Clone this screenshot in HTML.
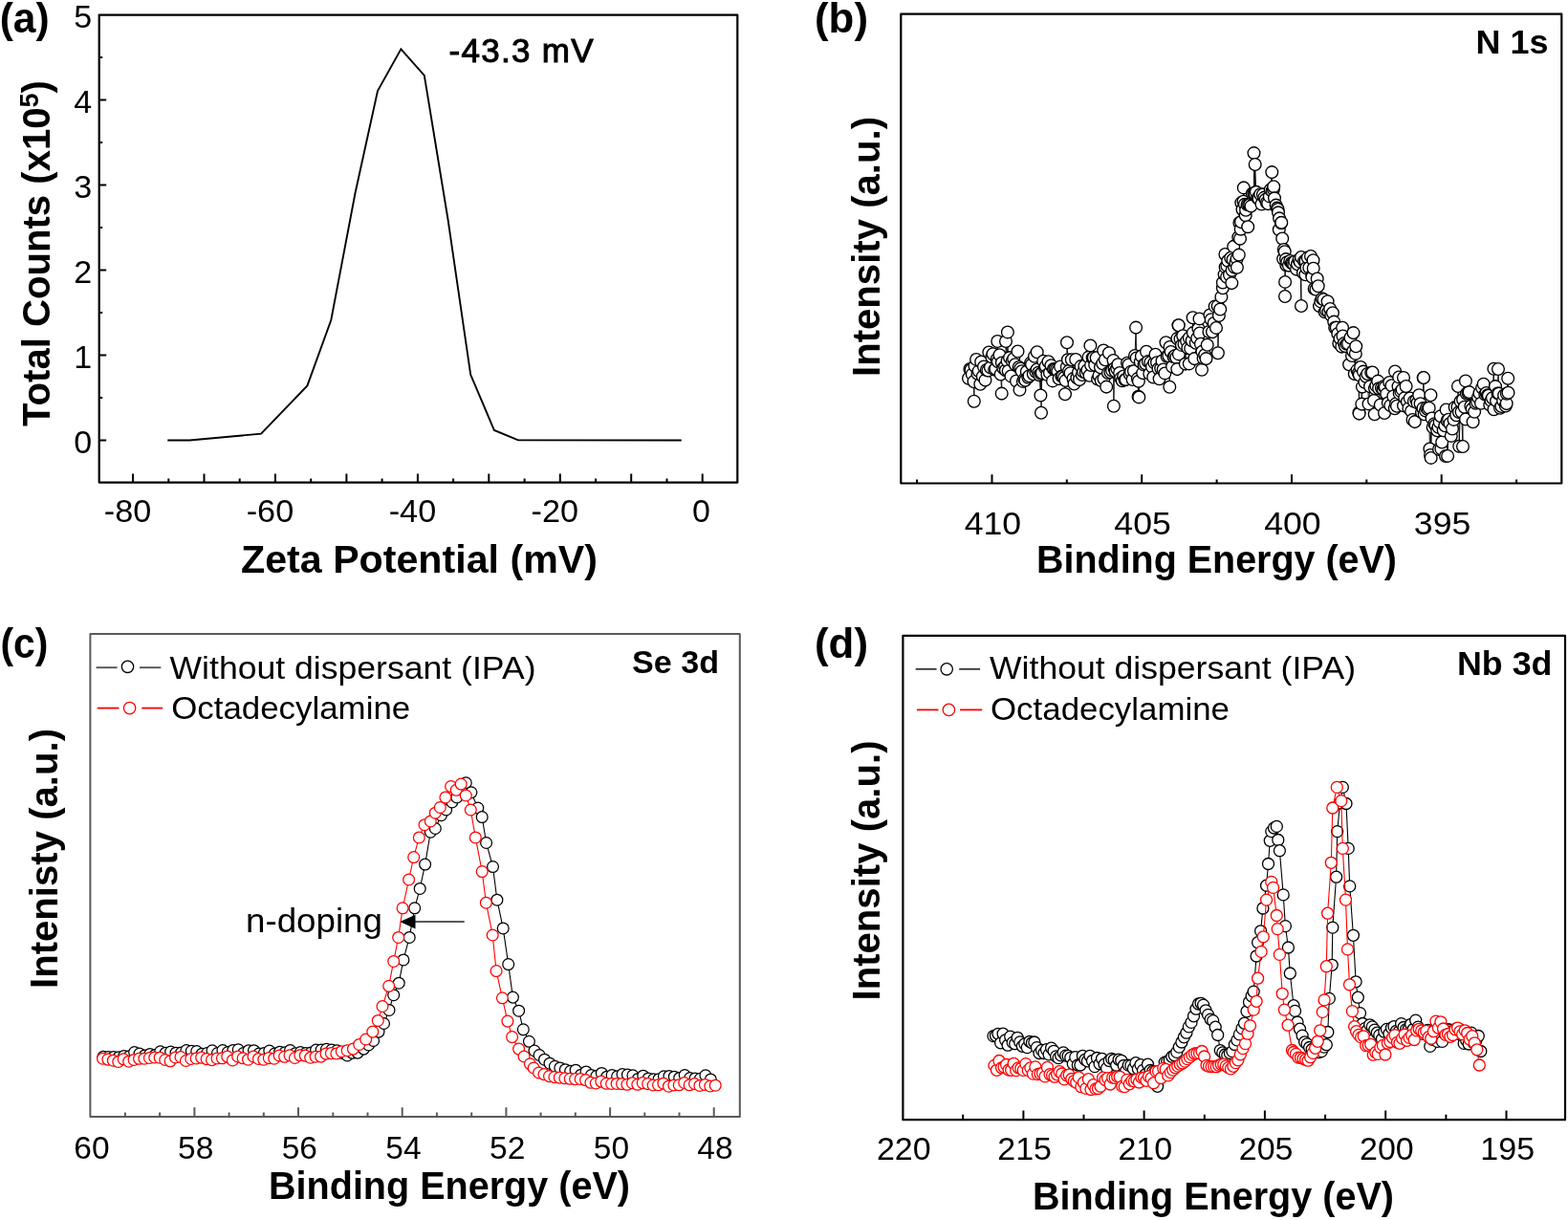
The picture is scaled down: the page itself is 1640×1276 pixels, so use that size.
<!DOCTYPE html><html><head><meta charset="utf-8"><title>Figure</title><style>html,body{margin:0;padding:0;background:#fff;overflow:hidden}svg{display:block}</style></head><body>
<svg width="1640" height="1276" viewBox="0 0 1640 1276" font-family="'Liberation Sans', sans-serif">
<rect width="1640" height="1276" fill="#fff"/>
<g id="pa">
<rect x="103.7" y="15.6" width="667.6" height="489.0" fill="none" stroke="#000" stroke-width="2.2" stroke-linejoin="round"/>
<path d="M139.0 504.6V495.6M176.3 504.6V500.6M213.5 504.6V495.6M250.7 504.6V500.6M287.9 504.6V495.6M325.2 504.6V500.6M362.4 504.6V495.6M399.6 504.6V500.6M436.9 504.6V495.6M474.1 504.6V500.6M511.3 504.6V495.6M548.6 504.6V500.6M585.8 504.6V495.6M623.0 504.6V500.6M660.2 504.6V495.6M697.5 504.6V500.6M734.7 504.6V495.6M103.7 460.5H111.2M103.7 416.0H107.2M103.7 371.5H111.2M103.7 327.0H107.2M103.7 282.5H111.2M103.7 238.0H107.2M103.7 193.6H111.2M103.7 149.1H107.2M103.7 104.6H111.2M103.7 60.1H107.2" stroke="#000" stroke-width="2" fill="none"/>
<text x="158.3" y="545.7" font-size="34" text-anchor="end" textLength="49.5" lengthAdjust="spacingAndGlyphs">-80</text>
<text x="307.2" y="545.7" font-size="34" text-anchor="end" textLength="49.5" lengthAdjust="spacingAndGlyphs">-60</text>
<text x="456.2" y="545.7" font-size="34" text-anchor="end" textLength="49.5" lengthAdjust="spacingAndGlyphs">-40</text>
<text x="605.1" y="545.7" font-size="34" text-anchor="end" textLength="49.5" lengthAdjust="spacingAndGlyphs">-20</text>
<text x="733.5" y="545.7" font-size="34" text-anchor="middle">0</text>
<text x="96.2" y="474.1" font-size="34" text-anchor="end">0</text>
<text x="96.2" y="385.1" font-size="34" text-anchor="end">1</text>
<text x="96.2" y="296.1" font-size="34" text-anchor="end">2</text>
<text x="96.2" y="207.2" font-size="34" text-anchor="end">3</text>
<text x="96.2" y="118.2" font-size="34" text-anchor="end">4</text>
<text x="96.2" y="29.2" font-size="34" text-anchor="end">5</text>
<polyline points="175.3,460.5 198.3,460.5 273.1,453.6 321.4,403.4 346.3,334.8 371.5,202.0 395.0,95.0 419.4,51.3 443.8,78.8 468.6,230.0 492.2,391.8 516.9,450.0 542.0,460.4 712.7,460.5" fill="none" stroke="#000" stroke-width="1.9" stroke-linejoin="miter"/>
<text x="252.0" y="598.9" font-size="40" font-weight="bold" textLength="373" lengthAdjust="spacingAndGlyphs">Zeta Potential (mV)</text>
<text transform="translate(52,446) rotate(-90)" font-size="40" font-weight="bold" textLength="362" lengthAdjust="spacingAndGlyphs">Total Counts (x10<tspan font-size="27" dy="-12">5</tspan><tspan dy="12">)</tspan></text>
<text x="469.5" y="64.5" font-size="35" stroke="#000" stroke-width="1.0" textLength="151" lengthAdjust="spacing">-43.3 mV</text>
<text x="-0.3" y="34.0" font-size="44.5" font-weight="bold" textLength="52" lengthAdjust="spacingAndGlyphs">(a)</text>
</g>
<g id="pb">
<rect x="942.3" y="14.6" width="691.0" height="490.9" fill="none" stroke="#000" stroke-width="2.2" stroke-linejoin="round"/>
<path d="M959.1 505.5V501.5M1037.5 505.5V496.3M1115.8 505.5V501.5M1194.2 505.5V496.3M1272.6 505.5V501.5M1351.0 505.5V496.3M1429.3 505.5V501.5M1507.7 505.5V496.3M1586.1 505.5V501.5" stroke="#000" stroke-width="2" fill="none"/>
<text x="1038.4" y="559.2" font-size="33.5" text-anchor="middle" textLength="59.5" lengthAdjust="spacingAndGlyphs">410</text>
<text x="1195.1" y="559.2" font-size="33.5" text-anchor="middle" textLength="59.5" lengthAdjust="spacingAndGlyphs">405</text>
<text x="1351.9" y="559.2" font-size="33.5" text-anchor="middle" textLength="59.5" lengthAdjust="spacingAndGlyphs">400</text>
<text x="1508.6" y="559.2" font-size="33.5" text-anchor="middle" textLength="59.5" lengthAdjust="spacingAndGlyphs">395</text>
<text x="1084.0" y="598.8" font-size="40" font-weight="bold" textLength="377" lengthAdjust="spacingAndGlyphs">Binding Energy (eV)</text>
<text transform="translate(920.1,394) rotate(-90)" font-size="40" font-weight="bold" textLength="272" lengthAdjust="spacingAndGlyphs">Intensity (a.u.)</text>
<text x="1543.5" y="56.2" font-size="35" font-weight="bold" textLength="76" lengthAdjust="spacingAndGlyphs">N 1s</text>
<text x="852.0" y="34.0" font-size="44.5" font-weight="bold" textLength="56" lengthAdjust="spacingAndGlyphs">(b)</text>
<polyline points="1013.0,395.7 1014.4,385.9 1015.6,386.7 1016.8,391.6 1018.5,399.1 1018.8,419.7 1019.5,382.7 1021.1,375.9 1022.5,390.8 1023.7,388.1 1025.3,401.7 1026.2,378.5 1027.8,393.7 1029.0,383.5 1030.5,397.6 1031.8,387.0 1033.4,387.6 1034.3,368.4 1035.9,384.2 1037.4,373.5 1038.5,370.2 1040.2,386.6 1041.4,385.8 1042.6,376.0 1043.3,357.0 1043.8,378.2 1045.5,371.3 1046.7,391.5 1047.7,411.6 1047.9,379.5 1049.3,385.0 1051.1,383.4 1051.9,387.3 1052.0,357.0 1053.6,377.5 1053.9,347.4 1054.7,388.0 1056.0,374.1 1057.4,393.4 1058.8,377.6 1060.2,375.2 1061.8,381.2 1063.0,398.5 1064.5,367.5 1065.7,383.9 1066.5,407.8 1067.3,385.5 1068.6,388.2 1069.9,398.9 1071.3,396.6 1072.4,397.7 1073.8,388.7 1075.3,394.8 1076.5,393.3 1078.0,379.6 1079.0,381.2 1080.8,391.2 1082.0,372.7 1083.3,388.7 1084.6,386.5 1084.7,368.3 1086.1,389.8 1087.1,392.2 1088.4,413.5 1088.8,390.9 1089.0,431.7 1089.8,390.0 1091.2,377.7 1092.9,384.8 1093.7,383.1 1095.4,391.9 1096.5,378.3 1097.9,389.9 1099.4,382.2 1101.0,398.4 1101.9,385.9 1103.3,386.3 1104.8,387.0 1106.3,388.2 1107.6,396.1 1109.1,383.4 1110.4,393.5 1111.4,393.6 1113.0,394.9 1114.0,412.2 1114.5,398.1 1115.8,384.0 1116.0,358.3 1116.9,376.2 1118.0,388.0 1119.5,390.3 1120.8,376.3 1122.5,396.1 1123.5,401.5 1125.2,376.0 1126.4,395.2 1128.0,389.5 1129.1,397.1 1130.5,383.1 1131.8,392.0 1133.1,388.9 1134.4,382.7 1135.8,390.1 1137.4,387.2 1138.6,373.6 1139.6,392.8 1140.4,361.4 1141.1,382.0 1142.7,374.2 1143.8,373.9 1145.2,381.7 1146.7,374.2 1148.1,396.5 1149.5,392.9 1151.0,384.2 1151.8,398.1 1153.2,380.2 1154.2,366.5 1154.5,396.3 1155.9,376.3 1157.2,404.6 1158.9,390.0 1159.9,369.3 1161.3,389.3 1163.1,387.6 1164.5,377.0 1164.9,424.8 1165.5,385.4 1166.6,388.3 1168.2,385.5 1169.4,381.3 1171.1,389.9 1172.2,395.6 1173.8,398.2 1175.2,393.4 1176.6,397.3 1177.6,396.9 1179.0,379.7 1180.5,381.5 1181.7,391.2 1183.0,388.8 1184.6,397.0 1185.9,388.1 1187.0,372.0 1188.1,342.6 1188.7,374.4 1189.9,396.1 1190.6,414.7 1190.9,398.7 1191.3,415.4 1192.8,378.5 1193.9,372.5 1195.2,390.1 1196.5,381.5 1198.1,380.2 1199.0,367.8 1200.9,378.1 1202.3,390.9 1203.3,379.0 1205.0,383.8 1206.2,394.5 1207.4,379.4 1208.5,370.7 1210.0,379.2 1211.5,385.7 1212.6,396.3 1214.2,385.2 1215.5,377.4 1216.7,386.5 1218.4,390.4 1219.5,358.2 1220.6,372.7 1222.3,372.2 1223.3,404.8 1223.5,363.0 1224.7,367.9 1226.1,383.5 1227.6,373.2 1229.0,371.9 1230.3,373.9 1231.3,386.1 1231.4,354.1 1232.5,340.3 1232.7,340.2 1232.9,370.4 1234.5,354.5 1235.9,360.9 1237.2,351.2 1238.5,359.9 1239.8,380.6 1241.1,356.7 1242.4,364.1 1243.8,353.4 1243.8,380.4 1245.2,364.6 1246.7,356.2 1247.6,332.2 1247.9,348.1 1249.3,375.1 1250.8,358.8 1252.2,353.7 1253.4,343.7 1254.5,333.4 1254.8,348.5 1255.9,359.8 1257.0,386.7 1257.4,367.7 1258.6,374.8 1260.2,371.3 1261.5,375.1 1262.7,360.7 1264.4,347.0 1265.4,329.4 1266.7,334.3 1268.0,347.1 1269.7,337.9 1270.7,320.4 1272.0,342.9 1273.7,320.1 1273.9,369.2 1274.9,330.0 1276.2,323.5 1277.4,310.6 1278.9,301.2 1278.9,295.5 1280.6,287.1 1281.4,266.0 1281.6,279.4 1283.1,289.7 1283.3,277.9 1284.2,272.7 1286.0,287.5 1287.2,269.7 1288.3,296.1 1288.6,282.7 1289.5,271.5 1290.2,257.9 1291.2,279.6 1292.4,274.9 1293.6,270.7 1293.9,279.8 1295.3,248.3 1295.8,266.6 1296.4,233.0 1297.0,249.7 1297.7,239.7 1298.0,232.1 1298.3,212.1 1299.5,219.2 1300.5,210.7 1300.8,196.4 1301.9,213.8 1302.7,225.3 1303.1,219.8 1304.6,214.0 1305.2,237.2 1306.1,214.1 1307.2,213.9 1308.5,215.6 1309.8,202.5 1311.3,202.2 1311.5,160.1 1312.5,202.4 1312.7,172.0 1313.8,200.8 1315.5,207.2 1316.6,208.0 1318.2,203.2 1319.5,213.5 1320.9,203.4 1322.3,206.6 1323.7,208.7 1324.9,211.9 1326.2,213.1 1327.8,205.4 1328.7,198.4 1330.3,180.1 1330.5,199.8 1331.9,197.9 1332.2,195.2 1333.0,207.3 1334.6,214.6 1335.8,217.6 1336.6,219.0 1337.0,222.3 1337.8,240.3 1338.1,228.4 1340.0,233.3 1340.3,232.8 1341.2,249.5 1342.1,270.8 1342.8,261.0 1343.7,263.2 1344.0,310.0 1344.1,294.9 1345.0,271.1 1345.3,277.3 1346.2,274.2 1347.9,277.6 1349.3,273.0 1350.8,274.9 1351.8,275.7 1353.2,276.4 1354.3,273.4 1356.0,281.6 1357.0,276.3 1358.5,271.8 1359.8,273.9 1361.0,320.0 1361.0,269.0 1362.9,285.2 1364.1,273.1 1365.4,287.3 1365.5,273.2 1366.4,280.2 1367.8,269.6 1369.3,279.9 1371.0,267.9 1372.3,288.0 1372.4,289.8 1373.5,272.3 1373.7,280.8 1374.7,302.0 1376.4,302.8 1377.7,291.5 1378.7,299.3 1380.0,320.1 1381.3,315.4 1382.7,312.3 1384.4,313.3 1385.7,326.2 1387.1,324.5 1388.6,315.3 1389.4,326.1 1391.2,323.0 1392.2,329.8 1393.9,327.3 1395.2,336.6 1396.2,342.8 1397.8,342.6 1399.3,349.0 1400.3,359.0 1401.6,354.0 1403.3,362.6 1404.1,342.7 1404.5,351.5 1406.0,359.0 1407.0,362.1 1408.5,359.7 1410.1,359.4 1411.1,381.3 1412.5,353.3 1414.0,372.0 1415.2,367.2 1415.5,348.1 1416.8,391.1 1417.8,369.9 1418.2,362.2 1419.5,387.1 1420.8,390.2 1421.5,431.5 1421.6,432.6 1421.8,392.2 1423.1,384.0 1424.3,422.6 1424.9,404.6 1425.9,388.6 1427.4,399.8 1428.7,393.8 1430.3,391.0 1431.5,422.4 1433.0,404.3 1434.2,389.8 1435.5,389.4 1437.0,418.9 1437.7,433.3 1438.0,406.2 1439.3,403.4 1441.2,398.6 1442.1,406.3 1443.8,423.5 1444.9,405.7 1446.5,407.1 1447.5,404.0 1448.0,432.0 1448.8,405.0 1450.2,412.1 1451.8,421.4 1453.2,399.9 1454.3,424.1 1455.5,403.3 1457.3,414.5 1458.8,427.2 1459.1,388.4 1460.1,422.3 1461.0,424.8 1462.5,404.3 1463.2,394.4 1463.7,411.4 1465.3,409.4 1466.6,407.4 1468.0,424.3 1468.0,395.0 1469.2,416.1 1470.6,404.0 1471.9,420.3 1473.4,426.9 1474.7,416.4 1476.1,429.9 1477.5,439.0 1478.9,419.8 1479.8,441.1 1481.4,418.6 1482.6,421.4 1484.2,413.2 1485.6,422.3 1487.0,431.4 1488.4,427.1 1488.7,395.1 1489.0,395.0 1489.7,433.2 1491.0,429.6 1492.1,426.8 1493.4,428.0 1494.7,426.7 1495.4,469.5 1496.0,476.0 1496.4,413.3 1496.7,478.9 1497.6,437.5 1498.7,446.9 1500.3,443.3 1501.6,444.8 1503.2,450.3 1504.5,446.8 1505.0,470.0 1505.7,441.6 1506.8,435.2 1507.4,469.5 1508.2,462.5 1509.7,450.3 1511.3,445.3 1512.0,477.0 1512.6,428.5 1513.6,440.0 1514.1,476.9 1515.1,438.8 1516.5,443.0 1517.8,455.9 1519.0,448.5 1520.5,438.9 1521.7,426.1 1523.2,434.2 1524.5,425.7 1525.0,404.0 1525.9,431.0 1526.2,466.8 1527.6,419.7 1528.6,430.7 1530.0,467.0 1530.1,418.1 1531.7,425.7 1532.9,398.4 1533.0,438.5 1533.9,411.8 1535.6,411.1 1536.6,410.1 1538.3,424.8 1539.7,427.7 1540.6,441.3 1542.1,430.7 1543.4,421.8 1545.1,420.6 1546.1,415.5 1547.5,411.2 1549.0,421.7 1550.1,405.6 1551.7,401.7 1553.3,412.5 1554.5,411.0 1556.0,413.2 1556.9,413.7 1558.3,423.5 1559.5,418.9 1560.9,416.2 1562.4,385.7 1562.5,428.3 1564.0,404.1 1565.1,419.2 1566.5,411.4 1567.0,386.0 1567.8,411.6 1569.0,426.8 1570.4,425.0 1572.1,419.0 1573.1,413.4 1574.8,424.5 1575.7,422.1 1575.9,411.8 1577.2,395.7 1577.5,410.7" fill="none" stroke="#000" stroke-width="0.9"/>
<g fill="#fff" stroke="#000" stroke-width="1.35">
<circle cx="1013.0" cy="395.7" r="6.35"/><circle cx="1014.4" cy="385.9" r="6.35"/><circle cx="1015.6" cy="386.7" r="6.35"/><circle cx="1016.8" cy="391.6" r="6.35"/><circle cx="1018.5" cy="399.1" r="6.35"/><circle cx="1018.8" cy="419.7" r="6.35"/><circle cx="1019.5" cy="382.7" r="6.35"/><circle cx="1021.1" cy="375.9" r="6.35"/><circle cx="1022.5" cy="390.8" r="6.35"/><circle cx="1023.7" cy="388.1" r="6.35"/><circle cx="1025.3" cy="401.7" r="6.35"/><circle cx="1026.2" cy="378.5" r="6.35"/><circle cx="1027.8" cy="393.7" r="6.35"/><circle cx="1029.0" cy="383.5" r="6.35"/><circle cx="1030.5" cy="397.6" r="6.35"/><circle cx="1031.8" cy="387.0" r="6.35"/><circle cx="1033.4" cy="387.6" r="6.35"/><circle cx="1034.3" cy="368.4" r="6.35"/><circle cx="1035.9" cy="384.2" r="6.35"/><circle cx="1037.4" cy="373.5" r="6.35"/><circle cx="1038.5" cy="370.2" r="6.35"/><circle cx="1040.2" cy="386.6" r="6.35"/><circle cx="1041.4" cy="385.8" r="6.35"/><circle cx="1042.6" cy="376.0" r="6.35"/><circle cx="1043.3" cy="357.0" r="6.35"/><circle cx="1043.8" cy="378.2" r="6.35"/><circle cx="1045.5" cy="371.3" r="6.35"/><circle cx="1046.7" cy="391.5" r="6.35"/><circle cx="1047.7" cy="411.6" r="6.35"/><circle cx="1047.9" cy="379.5" r="6.35"/><circle cx="1049.3" cy="385.0" r="6.35"/><circle cx="1051.1" cy="383.4" r="6.35"/><circle cx="1051.9" cy="387.3" r="6.35"/><circle cx="1052.0" cy="357.0" r="6.35"/><circle cx="1053.6" cy="377.5" r="6.35"/><circle cx="1053.9" cy="347.4" r="6.35"/><circle cx="1054.7" cy="388.0" r="6.35"/><circle cx="1056.0" cy="374.1" r="6.35"/><circle cx="1057.4" cy="393.4" r="6.35"/><circle cx="1058.8" cy="377.6" r="6.35"/><circle cx="1060.2" cy="375.2" r="6.35"/><circle cx="1061.8" cy="381.2" r="6.35"/><circle cx="1063.0" cy="398.5" r="6.35"/><circle cx="1064.5" cy="367.5" r="6.35"/><circle cx="1065.7" cy="383.9" r="6.35"/><circle cx="1066.5" cy="407.8" r="6.35"/><circle cx="1067.3" cy="385.5" r="6.35"/><circle cx="1068.6" cy="388.2" r="6.35"/><circle cx="1069.9" cy="398.9" r="6.35"/><circle cx="1071.3" cy="396.6" r="6.35"/><circle cx="1072.4" cy="397.7" r="6.35"/><circle cx="1073.8" cy="388.7" r="6.35"/><circle cx="1075.3" cy="394.8" r="6.35"/><circle cx="1076.5" cy="393.3" r="6.35"/><circle cx="1078.0" cy="379.6" r="6.35"/><circle cx="1079.0" cy="381.2" r="6.35"/><circle cx="1080.8" cy="391.2" r="6.35"/><circle cx="1082.0" cy="372.7" r="6.35"/><circle cx="1083.3" cy="388.7" r="6.35"/><circle cx="1084.6" cy="386.5" r="6.35"/><circle cx="1084.7" cy="368.3" r="6.35"/><circle cx="1086.1" cy="389.8" r="6.35"/><circle cx="1087.1" cy="392.2" r="6.35"/><circle cx="1088.4" cy="413.5" r="6.35"/><circle cx="1088.8" cy="390.9" r="6.35"/><circle cx="1089.0" cy="431.7" r="6.35"/><circle cx="1089.8" cy="390.0" r="6.35"/><circle cx="1091.2" cy="377.7" r="6.35"/><circle cx="1092.9" cy="384.8" r="6.35"/><circle cx="1093.7" cy="383.1" r="6.35"/><circle cx="1095.4" cy="391.9" r="6.35"/><circle cx="1096.5" cy="378.3" r="6.35"/><circle cx="1097.9" cy="389.9" r="6.35"/><circle cx="1099.4" cy="382.2" r="6.35"/><circle cx="1101.0" cy="398.4" r="6.35"/><circle cx="1101.9" cy="385.9" r="6.35"/><circle cx="1103.3" cy="386.3" r="6.35"/><circle cx="1104.8" cy="387.0" r="6.35"/><circle cx="1106.3" cy="388.2" r="6.35"/><circle cx="1107.6" cy="396.1" r="6.35"/><circle cx="1109.1" cy="383.4" r="6.35"/><circle cx="1110.4" cy="393.5" r="6.35"/><circle cx="1111.4" cy="393.6" r="6.35"/><circle cx="1113.0" cy="394.9" r="6.35"/><circle cx="1114.0" cy="412.2" r="6.35"/><circle cx="1114.5" cy="398.1" r="6.35"/><circle cx="1115.8" cy="384.0" r="6.35"/><circle cx="1116.0" cy="358.3" r="6.35"/><circle cx="1116.9" cy="376.2" r="6.35"/><circle cx="1118.0" cy="388.0" r="6.35"/><circle cx="1119.5" cy="390.3" r="6.35"/><circle cx="1120.8" cy="376.3" r="6.35"/><circle cx="1122.5" cy="396.1" r="6.35"/><circle cx="1123.5" cy="401.5" r="6.35"/><circle cx="1125.2" cy="376.0" r="6.35"/><circle cx="1126.4" cy="395.2" r="6.35"/><circle cx="1128.0" cy="389.5" r="6.35"/><circle cx="1129.1" cy="397.1" r="6.35"/><circle cx="1130.5" cy="383.1" r="6.35"/><circle cx="1131.8" cy="392.0" r="6.35"/><circle cx="1133.1" cy="388.9" r="6.35"/><circle cx="1134.4" cy="382.7" r="6.35"/><circle cx="1135.8" cy="390.1" r="6.35"/><circle cx="1137.4" cy="387.2" r="6.35"/><circle cx="1138.6" cy="373.6" r="6.35"/><circle cx="1139.6" cy="392.8" r="6.35"/><circle cx="1140.4" cy="361.4" r="6.35"/><circle cx="1141.1" cy="382.0" r="6.35"/><circle cx="1142.7" cy="374.2" r="6.35"/><circle cx="1143.8" cy="373.9" r="6.35"/><circle cx="1145.2" cy="381.7" r="6.35"/><circle cx="1146.7" cy="374.2" r="6.35"/><circle cx="1148.1" cy="396.5" r="6.35"/><circle cx="1149.5" cy="392.9" r="6.35"/><circle cx="1151.0" cy="384.2" r="6.35"/><circle cx="1151.8" cy="398.1" r="6.35"/><circle cx="1153.2" cy="380.2" r="6.35"/><circle cx="1154.2" cy="366.5" r="6.35"/><circle cx="1154.5" cy="396.3" r="6.35"/><circle cx="1155.9" cy="376.3" r="6.35"/><circle cx="1157.2" cy="404.6" r="6.35"/><circle cx="1158.9" cy="390.0" r="6.35"/><circle cx="1159.9" cy="369.3" r="6.35"/><circle cx="1161.3" cy="389.3" r="6.35"/><circle cx="1163.1" cy="387.6" r="6.35"/><circle cx="1164.5" cy="377.0" r="6.35"/><circle cx="1164.9" cy="424.8" r="6.35"/><circle cx="1165.5" cy="385.4" r="6.35"/><circle cx="1166.6" cy="388.3" r="6.35"/><circle cx="1168.2" cy="385.5" r="6.35"/><circle cx="1169.4" cy="381.3" r="6.35"/><circle cx="1171.1" cy="389.9" r="6.35"/><circle cx="1172.2" cy="395.6" r="6.35"/><circle cx="1173.8" cy="398.2" r="6.35"/><circle cx="1175.2" cy="393.4" r="6.35"/><circle cx="1176.6" cy="397.3" r="6.35"/><circle cx="1177.6" cy="396.9" r="6.35"/><circle cx="1179.0" cy="379.7" r="6.35"/><circle cx="1180.5" cy="381.5" r="6.35"/><circle cx="1181.7" cy="391.2" r="6.35"/><circle cx="1183.0" cy="388.8" r="6.35"/><circle cx="1184.6" cy="397.0" r="6.35"/><circle cx="1185.9" cy="388.1" r="6.35"/><circle cx="1187.0" cy="372.0" r="6.35"/><circle cx="1188.1" cy="342.6" r="6.35"/><circle cx="1188.7" cy="374.4" r="6.35"/><circle cx="1189.9" cy="396.1" r="6.35"/><circle cx="1190.6" cy="414.7" r="6.35"/><circle cx="1190.9" cy="398.7" r="6.35"/><circle cx="1191.3" cy="415.4" r="6.35"/><circle cx="1192.8" cy="378.5" r="6.35"/><circle cx="1193.9" cy="372.5" r="6.35"/><circle cx="1195.2" cy="390.1" r="6.35"/><circle cx="1196.5" cy="381.5" r="6.35"/><circle cx="1198.1" cy="380.2" r="6.35"/><circle cx="1199.0" cy="367.8" r="6.35"/><circle cx="1200.9" cy="378.1" r="6.35"/><circle cx="1202.3" cy="390.9" r="6.35"/><circle cx="1203.3" cy="379.0" r="6.35"/><circle cx="1205.0" cy="383.8" r="6.35"/><circle cx="1206.2" cy="394.5" r="6.35"/><circle cx="1207.4" cy="379.4" r="6.35"/><circle cx="1208.5" cy="370.7" r="6.35"/><circle cx="1210.0" cy="379.2" r="6.35"/><circle cx="1211.5" cy="385.7" r="6.35"/><circle cx="1212.6" cy="396.3" r="6.35"/><circle cx="1214.2" cy="385.2" r="6.35"/><circle cx="1215.5" cy="377.4" r="6.35"/><circle cx="1216.7" cy="386.5" r="6.35"/><circle cx="1218.4" cy="390.4" r="6.35"/><circle cx="1219.5" cy="358.2" r="6.35"/><circle cx="1220.6" cy="372.7" r="6.35"/><circle cx="1222.3" cy="372.2" r="6.35"/><circle cx="1223.3" cy="404.8" r="6.35"/><circle cx="1223.5" cy="363.0" r="6.35"/><circle cx="1224.7" cy="367.9" r="6.35"/><circle cx="1226.1" cy="383.5" r="6.35"/><circle cx="1227.6" cy="373.2" r="6.35"/><circle cx="1229.0" cy="371.9" r="6.35"/><circle cx="1230.3" cy="373.9" r="6.35"/><circle cx="1231.3" cy="386.1" r="6.35"/><circle cx="1231.4" cy="354.1" r="6.35"/><circle cx="1232.5" cy="340.3" r="6.35"/><circle cx="1232.7" cy="340.2" r="6.35"/><circle cx="1232.9" cy="370.4" r="6.35"/><circle cx="1234.5" cy="354.5" r="6.35"/><circle cx="1235.9" cy="360.9" r="6.35"/><circle cx="1237.2" cy="351.2" r="6.35"/><circle cx="1238.5" cy="359.9" r="6.35"/><circle cx="1239.8" cy="380.6" r="6.35"/><circle cx="1241.1" cy="356.7" r="6.35"/><circle cx="1242.4" cy="364.1" r="6.35"/><circle cx="1243.8" cy="353.4" r="6.35"/><circle cx="1243.8" cy="380.4" r="6.35"/><circle cx="1245.2" cy="364.6" r="6.35"/><circle cx="1246.7" cy="356.2" r="6.35"/><circle cx="1247.6" cy="332.2" r="6.35"/><circle cx="1247.9" cy="348.1" r="6.35"/><circle cx="1249.3" cy="375.1" r="6.35"/><circle cx="1250.8" cy="358.8" r="6.35"/><circle cx="1252.2" cy="353.7" r="6.35"/><circle cx="1253.4" cy="343.7" r="6.35"/><circle cx="1254.5" cy="333.4" r="6.35"/><circle cx="1254.8" cy="348.5" r="6.35"/><circle cx="1255.9" cy="359.8" r="6.35"/><circle cx="1257.0" cy="386.7" r="6.35"/><circle cx="1257.4" cy="367.7" r="6.35"/><circle cx="1258.6" cy="374.8" r="6.35"/><circle cx="1260.2" cy="371.3" r="6.35"/><circle cx="1261.5" cy="375.1" r="6.35"/><circle cx="1262.7" cy="360.7" r="6.35"/><circle cx="1264.4" cy="347.0" r="6.35"/><circle cx="1265.4" cy="329.4" r="6.35"/><circle cx="1266.7" cy="334.3" r="6.35"/><circle cx="1268.0" cy="347.1" r="6.35"/><circle cx="1269.7" cy="337.9" r="6.35"/><circle cx="1270.7" cy="320.4" r="6.35"/><circle cx="1272.0" cy="342.9" r="6.35"/><circle cx="1273.7" cy="320.1" r="6.35"/><circle cx="1273.9" cy="369.2" r="6.35"/><circle cx="1274.9" cy="330.0" r="6.35"/><circle cx="1276.2" cy="323.5" r="6.35"/><circle cx="1277.4" cy="310.6" r="6.35"/><circle cx="1278.9" cy="301.2" r="6.35"/><circle cx="1278.9" cy="295.5" r="6.35"/><circle cx="1280.6" cy="287.1" r="6.35"/><circle cx="1281.4" cy="266.0" r="6.35"/><circle cx="1281.6" cy="279.4" r="6.35"/><circle cx="1283.1" cy="289.7" r="6.35"/><circle cx="1283.3" cy="277.9" r="6.35"/><circle cx="1284.2" cy="272.7" r="6.35"/><circle cx="1286.0" cy="287.5" r="6.35"/><circle cx="1287.2" cy="269.7" r="6.35"/><circle cx="1288.3" cy="296.1" r="6.35"/><circle cx="1288.6" cy="282.7" r="6.35"/><circle cx="1289.5" cy="271.5" r="6.35"/><circle cx="1290.2" cy="257.9" r="6.35"/><circle cx="1291.2" cy="279.6" r="6.35"/><circle cx="1292.4" cy="274.9" r="6.35"/><circle cx="1293.6" cy="270.7" r="6.35"/><circle cx="1293.9" cy="279.8" r="6.35"/><circle cx="1295.3" cy="248.3" r="6.35"/><circle cx="1295.8" cy="266.6" r="6.35"/><circle cx="1296.4" cy="233.0" r="6.35"/><circle cx="1297.0" cy="249.7" r="6.35"/><circle cx="1297.7" cy="239.7" r="6.35"/><circle cx="1298.0" cy="232.1" r="6.35"/><circle cx="1298.3" cy="212.1" r="6.35"/><circle cx="1299.5" cy="219.2" r="6.35"/><circle cx="1300.5" cy="210.7" r="6.35"/><circle cx="1300.8" cy="196.4" r="6.35"/><circle cx="1301.9" cy="213.8" r="6.35"/><circle cx="1302.7" cy="225.3" r="6.35"/><circle cx="1303.1" cy="219.8" r="6.35"/><circle cx="1304.6" cy="214.0" r="6.35"/><circle cx="1305.2" cy="237.2" r="6.35"/><circle cx="1306.1" cy="214.1" r="6.35"/><circle cx="1307.2" cy="213.9" r="6.35"/><circle cx="1308.5" cy="215.6" r="6.35"/><circle cx="1309.8" cy="202.5" r="6.35"/><circle cx="1311.3" cy="202.2" r="6.35"/><circle cx="1311.5" cy="160.1" r="6.35"/><circle cx="1312.5" cy="202.4" r="6.35"/><circle cx="1312.7" cy="172.0" r="6.35"/><circle cx="1313.8" cy="200.8" r="6.35"/><circle cx="1315.5" cy="207.2" r="6.35"/><circle cx="1316.6" cy="208.0" r="6.35"/><circle cx="1318.2" cy="203.2" r="6.35"/><circle cx="1319.5" cy="213.5" r="6.35"/><circle cx="1320.9" cy="203.4" r="6.35"/><circle cx="1322.3" cy="206.6" r="6.35"/><circle cx="1323.7" cy="208.7" r="6.35"/><circle cx="1324.9" cy="211.9" r="6.35"/><circle cx="1326.2" cy="213.1" r="6.35"/><circle cx="1327.8" cy="205.4" r="6.35"/><circle cx="1328.7" cy="198.4" r="6.35"/><circle cx="1330.3" cy="180.1" r="6.35"/><circle cx="1330.5" cy="199.8" r="6.35"/><circle cx="1331.9" cy="197.9" r="6.35"/><circle cx="1332.2" cy="195.2" r="6.35"/><circle cx="1333.0" cy="207.3" r="6.35"/><circle cx="1334.6" cy="214.6" r="6.35"/><circle cx="1335.8" cy="217.6" r="6.35"/><circle cx="1336.6" cy="219.0" r="6.35"/><circle cx="1337.0" cy="222.3" r="6.35"/><circle cx="1337.8" cy="240.3" r="6.35"/><circle cx="1338.1" cy="228.4" r="6.35"/><circle cx="1340.0" cy="233.3" r="6.35"/><circle cx="1340.3" cy="232.8" r="6.35"/><circle cx="1341.2" cy="249.5" r="6.35"/><circle cx="1342.1" cy="270.8" r="6.35"/><circle cx="1342.8" cy="261.0" r="6.35"/><circle cx="1343.7" cy="263.2" r="6.35"/><circle cx="1344.0" cy="310.0" r="6.35"/><circle cx="1344.1" cy="294.9" r="6.35"/><circle cx="1345.0" cy="271.1" r="6.35"/><circle cx="1345.3" cy="277.3" r="6.35"/><circle cx="1346.2" cy="274.2" r="6.35"/><circle cx="1347.9" cy="277.6" r="6.35"/><circle cx="1349.3" cy="273.0" r="6.35"/><circle cx="1350.8" cy="274.9" r="6.35"/><circle cx="1351.8" cy="275.7" r="6.35"/><circle cx="1353.2" cy="276.4" r="6.35"/><circle cx="1354.3" cy="273.4" r="6.35"/><circle cx="1356.0" cy="281.6" r="6.35"/><circle cx="1357.0" cy="276.3" r="6.35"/><circle cx="1358.5" cy="271.8" r="6.35"/><circle cx="1359.8" cy="273.9" r="6.35"/><circle cx="1361.0" cy="320.0" r="6.35"/><circle cx="1361.0" cy="269.0" r="6.35"/><circle cx="1362.9" cy="285.2" r="6.35"/><circle cx="1364.1" cy="273.1" r="6.35"/><circle cx="1365.4" cy="287.3" r="6.35"/><circle cx="1365.5" cy="273.2" r="6.35"/><circle cx="1366.4" cy="280.2" r="6.35"/><circle cx="1367.8" cy="269.6" r="6.35"/><circle cx="1369.3" cy="279.9" r="6.35"/><circle cx="1371.0" cy="267.9" r="6.35"/><circle cx="1372.3" cy="288.0" r="6.35"/><circle cx="1372.4" cy="289.8" r="6.35"/><circle cx="1373.5" cy="272.3" r="6.35"/><circle cx="1373.7" cy="280.8" r="6.35"/><circle cx="1374.7" cy="302.0" r="6.35"/><circle cx="1376.4" cy="302.8" r="6.35"/><circle cx="1377.7" cy="291.5" r="6.35"/><circle cx="1378.7" cy="299.3" r="6.35"/><circle cx="1380.0" cy="320.1" r="6.35"/><circle cx="1381.3" cy="315.4" r="6.35"/><circle cx="1382.7" cy="312.3" r="6.35"/><circle cx="1384.4" cy="313.3" r="6.35"/><circle cx="1385.7" cy="326.2" r="6.35"/><circle cx="1387.1" cy="324.5" r="6.35"/><circle cx="1388.6" cy="315.3" r="6.35"/><circle cx="1389.4" cy="326.1" r="6.35"/><circle cx="1391.2" cy="323.0" r="6.35"/><circle cx="1392.2" cy="329.8" r="6.35"/><circle cx="1393.9" cy="327.3" r="6.35"/><circle cx="1395.2" cy="336.6" r="6.35"/><circle cx="1396.2" cy="342.8" r="6.35"/><circle cx="1397.8" cy="342.6" r="6.35"/><circle cx="1399.3" cy="349.0" r="6.35"/><circle cx="1400.3" cy="359.0" r="6.35"/><circle cx="1401.6" cy="354.0" r="6.35"/><circle cx="1403.3" cy="362.6" r="6.35"/><circle cx="1404.1" cy="342.7" r="6.35"/><circle cx="1404.5" cy="351.5" r="6.35"/><circle cx="1406.0" cy="359.0" r="6.35"/><circle cx="1407.0" cy="362.1" r="6.35"/><circle cx="1408.5" cy="359.7" r="6.35"/><circle cx="1410.1" cy="359.4" r="6.35"/><circle cx="1411.1" cy="381.3" r="6.35"/><circle cx="1412.5" cy="353.3" r="6.35"/><circle cx="1414.0" cy="372.0" r="6.35"/><circle cx="1415.2" cy="367.2" r="6.35"/><circle cx="1415.5" cy="348.1" r="6.35"/><circle cx="1416.8" cy="391.1" r="6.35"/><circle cx="1417.8" cy="369.9" r="6.35"/><circle cx="1418.2" cy="362.2" r="6.35"/><circle cx="1419.5" cy="387.1" r="6.35"/><circle cx="1420.8" cy="390.2" r="6.35"/><circle cx="1421.5" cy="431.5" r="6.35"/><circle cx="1421.6" cy="432.6" r="6.35"/><circle cx="1421.8" cy="392.2" r="6.35"/><circle cx="1423.1" cy="384.0" r="6.35"/><circle cx="1424.3" cy="422.6" r="6.35"/><circle cx="1424.9" cy="404.6" r="6.35"/><circle cx="1425.9" cy="388.6" r="6.35"/><circle cx="1427.4" cy="399.8" r="6.35"/><circle cx="1428.7" cy="393.8" r="6.35"/><circle cx="1430.3" cy="391.0" r="6.35"/><circle cx="1431.5" cy="422.4" r="6.35"/><circle cx="1433.0" cy="404.3" r="6.35"/><circle cx="1434.2" cy="389.8" r="6.35"/><circle cx="1435.5" cy="389.4" r="6.35"/><circle cx="1437.0" cy="418.9" r="6.35"/><circle cx="1437.7" cy="433.3" r="6.35"/><circle cx="1438.0" cy="406.2" r="6.35"/><circle cx="1439.3" cy="403.4" r="6.35"/><circle cx="1441.2" cy="398.6" r="6.35"/><circle cx="1442.1" cy="406.3" r="6.35"/><circle cx="1443.8" cy="423.5" r="6.35"/><circle cx="1444.9" cy="405.7" r="6.35"/><circle cx="1446.5" cy="407.1" r="6.35"/><circle cx="1447.5" cy="404.0" r="6.35"/><circle cx="1448.0" cy="432.0" r="6.35"/><circle cx="1448.8" cy="405.0" r="6.35"/><circle cx="1450.2" cy="412.1" r="6.35"/><circle cx="1451.8" cy="421.4" r="6.35"/><circle cx="1453.2" cy="399.9" r="6.35"/><circle cx="1454.3" cy="424.1" r="6.35"/><circle cx="1455.5" cy="403.3" r="6.35"/><circle cx="1457.3" cy="414.5" r="6.35"/><circle cx="1458.8" cy="427.2" r="6.35"/><circle cx="1459.1" cy="388.4" r="6.35"/><circle cx="1460.1" cy="422.3" r="6.35"/><circle cx="1461.0" cy="424.8" r="6.35"/><circle cx="1462.5" cy="404.3" r="6.35"/><circle cx="1463.2" cy="394.4" r="6.35"/><circle cx="1463.7" cy="411.4" r="6.35"/><circle cx="1465.3" cy="409.4" r="6.35"/><circle cx="1466.6" cy="407.4" r="6.35"/><circle cx="1468.0" cy="424.3" r="6.35"/><circle cx="1468.0" cy="395.0" r="6.35"/><circle cx="1469.2" cy="416.1" r="6.35"/><circle cx="1470.6" cy="404.0" r="6.35"/><circle cx="1471.9" cy="420.3" r="6.35"/><circle cx="1473.4" cy="426.9" r="6.35"/><circle cx="1474.7" cy="416.4" r="6.35"/><circle cx="1476.1" cy="429.9" r="6.35"/><circle cx="1477.5" cy="439.0" r="6.35"/><circle cx="1478.9" cy="419.8" r="6.35"/><circle cx="1479.8" cy="441.1" r="6.35"/><circle cx="1481.4" cy="418.6" r="6.35"/><circle cx="1482.6" cy="421.4" r="6.35"/><circle cx="1484.2" cy="413.2" r="6.35"/><circle cx="1485.6" cy="422.3" r="6.35"/><circle cx="1487.0" cy="431.4" r="6.35"/><circle cx="1488.4" cy="427.1" r="6.35"/><circle cx="1488.7" cy="395.1" r="6.35"/><circle cx="1489.0" cy="395.0" r="6.35"/><circle cx="1489.7" cy="433.2" r="6.35"/><circle cx="1491.0" cy="429.6" r="6.35"/><circle cx="1492.1" cy="426.8" r="6.35"/><circle cx="1493.4" cy="428.0" r="6.35"/><circle cx="1494.7" cy="426.7" r="6.35"/><circle cx="1495.4" cy="469.5" r="6.35"/><circle cx="1496.0" cy="476.0" r="6.35"/><circle cx="1496.4" cy="413.3" r="6.35"/><circle cx="1496.7" cy="478.9" r="6.35"/><circle cx="1497.6" cy="437.5" r="6.35"/><circle cx="1498.7" cy="446.9" r="6.35"/><circle cx="1500.3" cy="443.3" r="6.35"/><circle cx="1501.6" cy="444.8" r="6.35"/><circle cx="1503.2" cy="450.3" r="6.35"/><circle cx="1504.5" cy="446.8" r="6.35"/><circle cx="1505.0" cy="470.0" r="6.35"/><circle cx="1505.7" cy="441.6" r="6.35"/><circle cx="1506.8" cy="435.2" r="6.35"/><circle cx="1507.4" cy="469.5" r="6.35"/><circle cx="1508.2" cy="462.5" r="6.35"/><circle cx="1509.7" cy="450.3" r="6.35"/><circle cx="1511.3" cy="445.3" r="6.35"/><circle cx="1512.0" cy="477.0" r="6.35"/><circle cx="1512.6" cy="428.5" r="6.35"/><circle cx="1513.6" cy="440.0" r="6.35"/><circle cx="1514.1" cy="476.9" r="6.35"/><circle cx="1515.1" cy="438.8" r="6.35"/><circle cx="1516.5" cy="443.0" r="6.35"/><circle cx="1517.8" cy="455.9" r="6.35"/><circle cx="1519.0" cy="448.5" r="6.35"/><circle cx="1520.5" cy="438.9" r="6.35"/><circle cx="1521.7" cy="426.1" r="6.35"/><circle cx="1523.2" cy="434.2" r="6.35"/><circle cx="1524.5" cy="425.7" r="6.35"/><circle cx="1525.0" cy="404.0" r="6.35"/><circle cx="1525.9" cy="431.0" r="6.35"/><circle cx="1526.2" cy="466.8" r="6.35"/><circle cx="1527.6" cy="419.7" r="6.35"/><circle cx="1528.6" cy="430.7" r="6.35"/><circle cx="1530.0" cy="467.0" r="6.35"/><circle cx="1530.1" cy="418.1" r="6.35"/><circle cx="1531.7" cy="425.7" r="6.35"/><circle cx="1532.9" cy="398.4" r="6.35"/><circle cx="1533.0" cy="438.5" r="6.35"/><circle cx="1533.9" cy="411.8" r="6.35"/><circle cx="1535.6" cy="411.1" r="6.35"/><circle cx="1536.6" cy="410.1" r="6.35"/><circle cx="1538.3" cy="424.8" r="6.35"/><circle cx="1539.7" cy="427.7" r="6.35"/><circle cx="1540.6" cy="441.3" r="6.35"/><circle cx="1542.1" cy="430.7" r="6.35"/><circle cx="1543.4" cy="421.8" r="6.35"/><circle cx="1545.1" cy="420.6" r="6.35"/><circle cx="1546.1" cy="415.5" r="6.35"/><circle cx="1547.5" cy="411.2" r="6.35"/><circle cx="1549.0" cy="421.7" r="6.35"/><circle cx="1550.1" cy="405.6" r="6.35"/><circle cx="1551.7" cy="401.7" r="6.35"/><circle cx="1553.3" cy="412.5" r="6.35"/><circle cx="1554.5" cy="411.0" r="6.35"/><circle cx="1556.0" cy="413.2" r="6.35"/><circle cx="1556.9" cy="413.7" r="6.35"/><circle cx="1558.3" cy="423.5" r="6.35"/><circle cx="1559.5" cy="418.9" r="6.35"/><circle cx="1560.9" cy="416.2" r="6.35"/><circle cx="1562.4" cy="385.7" r="6.35"/><circle cx="1562.5" cy="428.3" r="6.35"/><circle cx="1564.0" cy="404.1" r="6.35"/><circle cx="1565.1" cy="419.2" r="6.35"/><circle cx="1566.5" cy="411.4" r="6.35"/><circle cx="1567.0" cy="386.0" r="6.35"/><circle cx="1567.8" cy="411.6" r="6.35"/><circle cx="1569.0" cy="426.8" r="6.35"/><circle cx="1570.4" cy="425.0" r="6.35"/><circle cx="1572.1" cy="419.0" r="6.35"/><circle cx="1573.1" cy="413.4" r="6.35"/><circle cx="1574.8" cy="424.5" r="6.35"/><circle cx="1575.7" cy="422.1" r="6.35"/><circle cx="1575.9" cy="411.8" r="6.35"/><circle cx="1577.2" cy="395.7" r="6.35"/><circle cx="1577.5" cy="410.7" r="6.35"/>
</g>
</g>
<g id="pc">
<rect x="94.4" y="662.9" width="679.4" height="505.1" fill="none" stroke="#5a5a5a" stroke-width="2.0" stroke-linejoin="round"/>
<path d="M130.9 1168.0V1163.4M167.1 1168.0V1163.4M203.4 1168.0V1158.2M239.6 1168.0V1163.4M275.8 1168.0V1163.4M312.0 1168.0V1158.2M348.3 1168.0V1163.4M384.5 1168.0V1163.4M420.7 1168.0V1158.2M456.9 1168.0V1163.4M493.2 1168.0V1163.4M529.4 1168.0V1158.2M565.6 1168.0V1163.4M601.8 1168.0V1163.4M638.1 1168.0V1158.2M674.3 1168.0V1163.4M710.5 1168.0V1163.4M746.7 1168.0V1158.2" stroke="#5a5a5a" stroke-width="2" fill="none"/>
<text x="96.0" y="1212.4" font-size="33.5" text-anchor="middle">60</text>
<text x="204.7" y="1212.4" font-size="33.5" text-anchor="middle">58</text>
<text x="313.3" y="1212.4" font-size="33.5" text-anchor="middle">56</text>
<text x="422.0" y="1212.4" font-size="33.5" text-anchor="middle">54</text>
<text x="530.7" y="1212.4" font-size="33.5" text-anchor="middle">52</text>
<text x="639.4" y="1212.4" font-size="33.5" text-anchor="middle">50</text>
<text x="748.0" y="1212.4" font-size="33.5" text-anchor="middle">48</text>
<text x="281.0" y="1253.7" font-size="40" font-weight="bold" textLength="378" lengthAdjust="spacingAndGlyphs">Binding Energy (eV)</text>
<text transform="translate(60.1,1034) rotate(-90)" font-size="40" font-weight="bold" textLength="272" lengthAdjust="spacingAndGlyphs">Intenisty (a.u.)</text>
<text x="661.0" y="703.5" font-size="34" font-weight="bold" textLength="91" lengthAdjust="spacingAndGlyphs">Se 3d</text>
<text x="0.5" y="688.4" font-size="44.5" font-weight="bold" textLength="50" lengthAdjust="spacingAndGlyphs">(c)</text>
<line x1="100.6" y1="698.2" x2="122.6" y2="698.2" stroke="#555" stroke-width="1.9"/>
<line x1="146.0" y1="698.2" x2="168.3" y2="698.2" stroke="#555" stroke-width="1.9"/>
<circle cx="133.5" cy="697.3" r="6.2" fill="#fff" stroke="#000" stroke-width="1.3"/>
<line x1="101.8" y1="740.6" x2="124.4" y2="740.6" stroke="#f00" stroke-width="1.8"/>
<line x1="148.2" y1="740.6" x2="170.1" y2="740.6" stroke="#f00" stroke-width="1.8"/>
<circle cx="135.6" cy="740.6" r="6.2" fill="#fff" stroke="#f00" stroke-width="1.3"/>
<text x="177.5" y="709.5" font-size="34" textLength="383" lengthAdjust="spacingAndGlyphs">Without dispersant (IPA)</text>
<text x="179.2" y="751.7" font-size="34" textLength="250" lengthAdjust="spacingAndGlyphs">Octadecylamine</text>
<text x="257.0" y="974.7" font-size="35" textLength="143" lengthAdjust="spacingAndGlyphs">n-doping</text>
<polyline points="108.0,1105.3 113.4,1105.5 118.9,1105.4 124.3,1105.7 129.7,1104.4 135.2,1104.8 140.6,1100.6 146.0,1102.1 151.4,1103.9 156.9,1102.4 162.3,1103.4 167.7,1099.8 173.2,1101.2 178.6,1100.0 184.0,1101.2 189.5,1101.1 194.9,1098.5 200.3,1099.3 205.7,1099.5 211.2,1102.2 216.6,1101.5 222.0,1098.8 227.5,1101.5 232.9,1098.6 238.3,1100.6 243.8,1098.4 249.2,1097.8 254.6,1101.6 260.0,1098.7 265.5,1098.7 270.9,1102.1 276.3,1101.6 281.8,1099.1 287.2,1102.0 292.6,1100.2 298.1,1100.8 303.5,1098.6 308.9,1101.7 314.3,1100.5 319.8,1101.6 325.2,1101.0 330.6,1098.1 336.1,1098.1 341.5,1097.3 346.9,1098.0 352.4,1098.8 357.8,1101.5 363.2,1104.0 368.6,1101.3 374.1,1101.1 380.4,1097.1 385.5,1093.0 390.6,1088.5 396.0,1079.1 401.5,1070.5 407.0,1056.4 411.7,1040.7 417.2,1028.2 421.9,1003.9 428.2,980.4 433.7,949.8 439.2,929.4 444.6,904.1 450.3,870.2 455.3,866.5 461.5,852.7 466.6,847.0 472.8,838.9 477.8,833.9 482.5,826.0 487.3,818.8 492.9,828.8 499.8,845.1 504.2,854.6 508.6,881.5 515.5,906.6 519.9,941.2 526.2,970.9 531.7,1008.6 536.4,1043.1 542.6,1057.2 547.3,1076.8 553.4,1089.3 559.0,1099.0 564.1,1103.5 569.5,1108.2 575.0,1112.2 580.4,1115.3 585.8,1116.9 591.3,1118.7 596.7,1120.3 602.1,1119.2 607.6,1124.2 613.0,1120.9 618.4,1124.6 623.8,1125.5 629.3,1122.4 634.7,1126.2 640.1,1124.6 645.6,1125.8 651.0,1123.6 656.4,1124.0 661.9,1124.8 667.3,1128.4 672.7,1125.2 678.1,1127.9 683.6,1128.8 689.0,1128.7 694.4,1125.8 699.9,1125.4 705.3,1126.2 710.7,1127.4 716.2,1124.6 721.6,1127.6 727.0,1127.9 732.4,1128.3 737.9,1124.8 743.3,1128.9" fill="none" stroke="#000" stroke-width="1.1"/>
<g fill="#fff" stroke="#000" stroke-width="1.25">
<circle cx="108.0" cy="1105.3" r="5.9"/><circle cx="113.4" cy="1105.5" r="5.9"/><circle cx="118.9" cy="1105.4" r="5.9"/><circle cx="124.3" cy="1105.7" r="5.9"/><circle cx="129.7" cy="1104.4" r="5.9"/><circle cx="135.2" cy="1104.8" r="5.9"/><circle cx="140.6" cy="1100.6" r="5.9"/><circle cx="146.0" cy="1102.1" r="5.9"/><circle cx="151.4" cy="1103.9" r="5.9"/><circle cx="156.9" cy="1102.4" r="5.9"/><circle cx="162.3" cy="1103.4" r="5.9"/><circle cx="167.7" cy="1099.8" r="5.9"/><circle cx="173.2" cy="1101.2" r="5.9"/><circle cx="178.6" cy="1100.0" r="5.9"/><circle cx="184.0" cy="1101.2" r="5.9"/><circle cx="189.5" cy="1101.1" r="5.9"/><circle cx="194.9" cy="1098.5" r="5.9"/><circle cx="200.3" cy="1099.3" r="5.9"/><circle cx="205.7" cy="1099.5" r="5.9"/><circle cx="211.2" cy="1102.2" r="5.9"/><circle cx="216.6" cy="1101.5" r="5.9"/><circle cx="222.0" cy="1098.8" r="5.9"/><circle cx="227.5" cy="1101.5" r="5.9"/><circle cx="232.9" cy="1098.6" r="5.9"/><circle cx="238.3" cy="1100.6" r="5.9"/><circle cx="243.8" cy="1098.4" r="5.9"/><circle cx="249.2" cy="1097.8" r="5.9"/><circle cx="254.6" cy="1101.6" r="5.9"/><circle cx="260.0" cy="1098.7" r="5.9"/><circle cx="265.5" cy="1098.7" r="5.9"/><circle cx="270.9" cy="1102.1" r="5.9"/><circle cx="276.3" cy="1101.6" r="5.9"/><circle cx="281.8" cy="1099.1" r="5.9"/><circle cx="287.2" cy="1102.0" r="5.9"/><circle cx="292.6" cy="1100.2" r="5.9"/><circle cx="298.1" cy="1100.8" r="5.9"/><circle cx="303.5" cy="1098.6" r="5.9"/><circle cx="308.9" cy="1101.7" r="5.9"/><circle cx="314.3" cy="1100.5" r="5.9"/><circle cx="319.8" cy="1101.6" r="5.9"/><circle cx="325.2" cy="1101.0" r="5.9"/><circle cx="330.6" cy="1098.1" r="5.9"/><circle cx="336.1" cy="1098.1" r="5.9"/><circle cx="341.5" cy="1097.3" r="5.9"/><circle cx="346.9" cy="1098.0" r="5.9"/><circle cx="352.4" cy="1098.8" r="5.9"/><circle cx="357.8" cy="1101.5" r="5.9"/><circle cx="363.2" cy="1104.0" r="5.9"/><circle cx="368.6" cy="1101.3" r="5.9"/><circle cx="374.1" cy="1101.1" r="5.9"/><circle cx="380.4" cy="1097.1" r="5.9"/><circle cx="385.5" cy="1093.0" r="5.9"/><circle cx="390.6" cy="1088.5" r="5.9"/><circle cx="396.0" cy="1079.1" r="5.9"/><circle cx="401.5" cy="1070.5" r="5.9"/><circle cx="407.0" cy="1056.4" r="5.9"/><circle cx="411.7" cy="1040.7" r="5.9"/><circle cx="417.2" cy="1028.2" r="5.9"/><circle cx="421.9" cy="1003.9" r="5.9"/><circle cx="428.2" cy="980.4" r="5.9"/><circle cx="433.7" cy="949.8" r="5.9"/><circle cx="439.2" cy="929.4" r="5.9"/><circle cx="444.6" cy="904.1" r="5.9"/><circle cx="450.3" cy="870.2" r="5.9"/><circle cx="455.3" cy="866.5" r="5.9"/><circle cx="461.5" cy="852.7" r="5.9"/><circle cx="466.6" cy="847.0" r="5.9"/><circle cx="472.8" cy="838.9" r="5.9"/><circle cx="477.8" cy="833.9" r="5.9"/><circle cx="482.5" cy="826.0" r="5.9"/><circle cx="487.3" cy="818.8" r="5.9"/><circle cx="492.9" cy="828.8" r="5.9"/><circle cx="499.8" cy="845.1" r="5.9"/><circle cx="504.2" cy="854.6" r="5.9"/><circle cx="508.6" cy="881.5" r="5.9"/><circle cx="515.5" cy="906.6" r="5.9"/><circle cx="519.9" cy="941.2" r="5.9"/><circle cx="526.2" cy="970.9" r="5.9"/><circle cx="531.7" cy="1008.6" r="5.9"/><circle cx="536.4" cy="1043.1" r="5.9"/><circle cx="542.6" cy="1057.2" r="5.9"/><circle cx="547.3" cy="1076.8" r="5.9"/><circle cx="553.4" cy="1089.3" r="5.9"/><circle cx="559.0" cy="1099.0" r="5.9"/><circle cx="564.1" cy="1103.5" r="5.9"/><circle cx="569.5" cy="1108.2" r="5.9"/><circle cx="575.0" cy="1112.2" r="5.9"/><circle cx="580.4" cy="1115.3" r="5.9"/><circle cx="585.8" cy="1116.9" r="5.9"/><circle cx="591.3" cy="1118.7" r="5.9"/><circle cx="596.7" cy="1120.3" r="5.9"/><circle cx="602.1" cy="1119.2" r="5.9"/><circle cx="607.6" cy="1124.2" r="5.9"/><circle cx="613.0" cy="1120.9" r="5.9"/><circle cx="618.4" cy="1124.6" r="5.9"/><circle cx="623.8" cy="1125.5" r="5.9"/><circle cx="629.3" cy="1122.4" r="5.9"/><circle cx="634.7" cy="1126.2" r="5.9"/><circle cx="640.1" cy="1124.6" r="5.9"/><circle cx="645.6" cy="1125.8" r="5.9"/><circle cx="651.0" cy="1123.6" r="5.9"/><circle cx="656.4" cy="1124.0" r="5.9"/><circle cx="661.9" cy="1124.8" r="5.9"/><circle cx="667.3" cy="1128.4" r="5.9"/><circle cx="672.7" cy="1125.2" r="5.9"/><circle cx="678.1" cy="1127.9" r="5.9"/><circle cx="683.6" cy="1128.8" r="5.9"/><circle cx="689.0" cy="1128.7" r="5.9"/><circle cx="694.4" cy="1125.8" r="5.9"/><circle cx="699.9" cy="1125.4" r="5.9"/><circle cx="705.3" cy="1126.2" r="5.9"/><circle cx="710.7" cy="1127.4" r="5.9"/><circle cx="716.2" cy="1124.6" r="5.9"/><circle cx="721.6" cy="1127.6" r="5.9"/><circle cx="727.0" cy="1127.9" r="5.9"/><circle cx="732.4" cy="1128.3" r="5.9"/><circle cx="737.9" cy="1124.8" r="5.9"/><circle cx="743.3" cy="1128.9" r="5.9"/>
</g>
<polyline points="107.5,1107.2 112.9,1108.1 118.4,1109.2 123.8,1110.4 129.2,1107.8 134.7,1110.2 140.1,1108.4 145.5,1107.3 150.9,1107.2 156.4,1106.5 161.8,1106.0 167.2,1106.2 172.7,1108.5 178.1,1109.8 183.5,1106.0 189.0,1105.5 194.4,1109.5 199.8,1107.5 205.2,1106.9 210.7,1106.1 216.1,1107.6 221.5,1108.6 227.0,1106.9 232.4,1106.8 237.8,1105.1 243.3,1108.9 248.7,1105.0 254.1,1106.8 259.5,1108.2 265.0,1104.9 270.4,1107.4 275.8,1108.2 281.3,1106.6 286.7,1107.2 292.1,1104.0 297.6,1105.3 303.0,1103.8 308.4,1106.5 313.8,1103.8 319.3,1104.1 324.7,1106.2 330.1,1105.2 335.6,1105.1 341.0,1102.1 346.4,1101.6 351.9,1101.9 357.3,1099.7 363.1,1098.7 369.4,1097.1 375.7,1092.4 382.7,1087.0 389.8,1079.1 395.3,1067.4 400.0,1052.5 406.7,1031.3 411.7,1005.4 416.7,980.4 421.1,949.8 427.6,920.0 432.7,896.6 438.3,875.9 444.0,862.7 450.3,858.9 455.3,850.2 460.3,844.5 465.9,833.9 471.6,822.6 477.2,826.3 482.2,820.1 487.3,832.0 492.3,847.0 497.3,875.9 504.2,911.6 508.4,944.2 515.2,978.0 519.1,1015.6 525.4,1043.8 530.9,1068.1 535.6,1084.6 542.6,1097.1 548.1,1105.0 554.4,1112.8 558.2,1117.0 563.6,1122.0 569.0,1123.6 574.5,1125.6 579.9,1126.6 585.3,1127.1 590.8,1127.8 596.2,1128.3 601.6,1128.6 607.1,1128.5 612.5,1129.6 617.9,1132.3 623.3,1133.0 628.8,1131.1 634.2,1133.3 639.6,1133.5 645.1,1133.4 650.5,1133.6 655.9,1134.3 661.4,1132.7 666.8,1134.3 672.2,1132.6 677.6,1133.6 683.1,1135.0 688.5,1134.8 693.9,1133.2 699.4,1136.2 704.8,1135.0 710.2,1134.8 715.7,1132.5 721.1,1134.8 726.5,1133.5 731.9,1135.4 737.4,1134.4 742.8,1136.0 748.2,1135.2" fill="none" stroke="#f00" stroke-width="1.1"/>
<g fill="#fff" stroke="#f00" stroke-width="1.25">
<circle cx="107.5" cy="1107.2" r="5.9"/><circle cx="112.9" cy="1108.1" r="5.9"/><circle cx="118.4" cy="1109.2" r="5.9"/><circle cx="123.8" cy="1110.4" r="5.9"/><circle cx="129.2" cy="1107.8" r="5.9"/><circle cx="134.7" cy="1110.2" r="5.9"/><circle cx="140.1" cy="1108.4" r="5.9"/><circle cx="145.5" cy="1107.3" r="5.9"/><circle cx="150.9" cy="1107.2" r="5.9"/><circle cx="156.4" cy="1106.5" r="5.9"/><circle cx="161.8" cy="1106.0" r="5.9"/><circle cx="167.2" cy="1106.2" r="5.9"/><circle cx="172.7" cy="1108.5" r="5.9"/><circle cx="178.1" cy="1109.8" r="5.9"/><circle cx="183.5" cy="1106.0" r="5.9"/><circle cx="189.0" cy="1105.5" r="5.9"/><circle cx="194.4" cy="1109.5" r="5.9"/><circle cx="199.8" cy="1107.5" r="5.9"/><circle cx="205.2" cy="1106.9" r="5.9"/><circle cx="210.7" cy="1106.1" r="5.9"/><circle cx="216.1" cy="1107.6" r="5.9"/><circle cx="221.5" cy="1108.6" r="5.9"/><circle cx="227.0" cy="1106.9" r="5.9"/><circle cx="232.4" cy="1106.8" r="5.9"/><circle cx="237.8" cy="1105.1" r="5.9"/><circle cx="243.3" cy="1108.9" r="5.9"/><circle cx="248.7" cy="1105.0" r="5.9"/><circle cx="254.1" cy="1106.8" r="5.9"/><circle cx="259.5" cy="1108.2" r="5.9"/><circle cx="265.0" cy="1104.9" r="5.9"/><circle cx="270.4" cy="1107.4" r="5.9"/><circle cx="275.8" cy="1108.2" r="5.9"/><circle cx="281.3" cy="1106.6" r="5.9"/><circle cx="286.7" cy="1107.2" r="5.9"/><circle cx="292.1" cy="1104.0" r="5.9"/><circle cx="297.6" cy="1105.3" r="5.9"/><circle cx="303.0" cy="1103.8" r="5.9"/><circle cx="308.4" cy="1106.5" r="5.9"/><circle cx="313.8" cy="1103.8" r="5.9"/><circle cx="319.3" cy="1104.1" r="5.9"/><circle cx="324.7" cy="1106.2" r="5.9"/><circle cx="330.1" cy="1105.2" r="5.9"/><circle cx="335.6" cy="1105.1" r="5.9"/><circle cx="341.0" cy="1102.1" r="5.9"/><circle cx="346.4" cy="1101.6" r="5.9"/><circle cx="351.9" cy="1101.9" r="5.9"/><circle cx="357.3" cy="1099.7" r="5.9"/><circle cx="363.1" cy="1098.7" r="5.9"/><circle cx="369.4" cy="1097.1" r="5.9"/><circle cx="375.7" cy="1092.4" r="5.9"/><circle cx="382.7" cy="1087.0" r="5.9"/><circle cx="389.8" cy="1079.1" r="5.9"/><circle cx="395.3" cy="1067.4" r="5.9"/><circle cx="400.0" cy="1052.5" r="5.9"/><circle cx="406.7" cy="1031.3" r="5.9"/><circle cx="411.7" cy="1005.4" r="5.9"/><circle cx="416.7" cy="980.4" r="5.9"/><circle cx="421.1" cy="949.8" r="5.9"/><circle cx="427.6" cy="920.0" r="5.9"/><circle cx="432.7" cy="896.6" r="5.9"/><circle cx="438.3" cy="875.9" r="5.9"/><circle cx="444.0" cy="862.7" r="5.9"/><circle cx="450.3" cy="858.9" r="5.9"/><circle cx="455.3" cy="850.2" r="5.9"/><circle cx="460.3" cy="844.5" r="5.9"/><circle cx="465.9" cy="833.9" r="5.9"/><circle cx="471.6" cy="822.6" r="5.9"/><circle cx="477.2" cy="826.3" r="5.9"/><circle cx="482.2" cy="820.1" r="5.9"/><circle cx="487.3" cy="832.0" r="5.9"/><circle cx="492.3" cy="847.0" r="5.9"/><circle cx="497.3" cy="875.9" r="5.9"/><circle cx="504.2" cy="911.6" r="5.9"/><circle cx="508.4" cy="944.2" r="5.9"/><circle cx="515.2" cy="978.0" r="5.9"/><circle cx="519.1" cy="1015.6" r="5.9"/><circle cx="525.4" cy="1043.8" r="5.9"/><circle cx="530.9" cy="1068.1" r="5.9"/><circle cx="535.6" cy="1084.6" r="5.9"/><circle cx="542.6" cy="1097.1" r="5.9"/><circle cx="548.1" cy="1105.0" r="5.9"/><circle cx="554.4" cy="1112.8" r="5.9"/><circle cx="558.2" cy="1117.0" r="5.9"/><circle cx="563.6" cy="1122.0" r="5.9"/><circle cx="569.0" cy="1123.6" r="5.9"/><circle cx="574.5" cy="1125.6" r="5.9"/><circle cx="579.9" cy="1126.6" r="5.9"/><circle cx="585.3" cy="1127.1" r="5.9"/><circle cx="590.8" cy="1127.8" r="5.9"/><circle cx="596.2" cy="1128.3" r="5.9"/><circle cx="601.6" cy="1128.6" r="5.9"/><circle cx="607.1" cy="1128.5" r="5.9"/><circle cx="612.5" cy="1129.6" r="5.9"/><circle cx="617.9" cy="1132.3" r="5.9"/><circle cx="623.3" cy="1133.0" r="5.9"/><circle cx="628.8" cy="1131.1" r="5.9"/><circle cx="634.2" cy="1133.3" r="5.9"/><circle cx="639.6" cy="1133.5" r="5.9"/><circle cx="645.1" cy="1133.4" r="5.9"/><circle cx="650.5" cy="1133.6" r="5.9"/><circle cx="655.9" cy="1134.3" r="5.9"/><circle cx="661.4" cy="1132.7" r="5.9"/><circle cx="666.8" cy="1134.3" r="5.9"/><circle cx="672.2" cy="1132.6" r="5.9"/><circle cx="677.6" cy="1133.6" r="5.9"/><circle cx="683.1" cy="1135.0" r="5.9"/><circle cx="688.5" cy="1134.8" r="5.9"/><circle cx="693.9" cy="1133.2" r="5.9"/><circle cx="699.4" cy="1136.2" r="5.9"/><circle cx="704.8" cy="1135.0" r="5.9"/><circle cx="710.2" cy="1134.8" r="5.9"/><circle cx="715.7" cy="1132.5" r="5.9"/><circle cx="721.1" cy="1134.8" r="5.9"/><circle cx="726.5" cy="1133.5" r="5.9"/><circle cx="731.9" cy="1135.4" r="5.9"/><circle cx="737.4" cy="1134.4" r="5.9"/><circle cx="742.8" cy="1136.0" r="5.9"/><circle cx="748.2" cy="1135.2" r="5.9"/>
</g>
<line x1="434.0" y1="964.0" x2="485.7" y2="964.0" stroke="#222" stroke-width="1.4"/>
<polygon points="418.3,964 434.5,956.8 434.5,971.4" fill="#000"/>
</g>
<g id="pd">
<rect x="944.4" y="664.8" width="692.6" height="506.4" fill="none" stroke="#000" stroke-width="2.2" stroke-linejoin="round"/>
<path d="M1007.2 1171.2V1165.8M1070.4 1171.2V1161.4M1133.5 1171.2V1165.8M1196.6 1171.2V1161.4M1259.8 1171.2V1165.8M1322.9 1171.2V1161.4M1386.1 1171.2V1165.8M1449.2 1171.2V1161.4M1512.4 1171.2V1165.8M1575.5 1171.2V1161.4" stroke="#000" stroke-width="2" fill="none"/>
<text x="945.3" y="1212.8" font-size="34" text-anchor="middle">220</text>
<text x="1071.6" y="1212.8" font-size="34" text-anchor="middle">215</text>
<text x="1197.8" y="1212.8" font-size="34" text-anchor="middle">210</text>
<text x="1324.1" y="1212.8" font-size="34" text-anchor="middle">205</text>
<text x="1450.4" y="1212.8" font-size="34" text-anchor="middle">200</text>
<text x="1576.7" y="1212.8" font-size="34" text-anchor="middle">195</text>
<text x="1080.0" y="1265.1" font-size="40" font-weight="bold" textLength="378" lengthAdjust="spacingAndGlyphs">Binding Energy (eV)</text>
<text transform="translate(920.1,1046.5) rotate(-90)" font-size="40" font-weight="bold" textLength="272" lengthAdjust="spacingAndGlyphs">Intensity (a.u.)</text>
<text x="1524.0" y="705.6" font-size="35" font-weight="bold" textLength="99.5" lengthAdjust="spacingAndGlyphs">Nb 3d</text>
<text x="852.0" y="688.0" font-size="44.5" font-weight="bold" textLength="56" lengthAdjust="spacingAndGlyphs">(d)</text>
<line x1="957.7" y1="699.8" x2="979.6" y2="699.8" stroke="#333" stroke-width="1.8"/>
<line x1="1003.2" y1="699.8" x2="1025.1" y2="699.8" stroke="#333" stroke-width="1.8"/>
<circle cx="990.2" cy="699.8" r="6.2" fill="#fff" stroke="#000" stroke-width="1.3"/>
<line x1="958.9" y1="742.4" x2="981.5" y2="742.4" stroke="#f00" stroke-width="1.8"/>
<line x1="1004.0" y1="742.4" x2="1027.2" y2="742.4" stroke="#f00" stroke-width="1.8"/>
<circle cx="992.4" cy="742.4" r="6.2" fill="#fff" stroke="#f00" stroke-width="1.3"/>
<text x="1035.0" y="710.2" font-size="34" textLength="383" lengthAdjust="spacingAndGlyphs">Without dispersant (IPA)</text>
<text x="1036.0" y="752.9" font-size="34" textLength="250" lengthAdjust="spacingAndGlyphs">Octadecylamine</text>
<polyline points="1039.0,1083.6 1041.5,1083.3 1044.0,1081.3 1046.6,1090.8 1049.1,1081.2 1051.6,1087.8 1054.1,1093.2 1056.7,1084.1 1059.2,1090.4 1061.7,1091.7 1064.2,1085.3 1066.8,1089.9 1069.3,1094.3 1071.8,1091.8 1074.3,1095.6 1076.9,1089.3 1079.4,1090.7 1081.9,1090.0 1084.4,1095.6 1087.0,1101.5 1089.5,1098.4 1092.0,1101.5 1094.5,1097.7 1097.1,1102.9 1099.6,1096.1 1102.1,1099.3 1104.6,1104.9 1107.1,1106.6 1109.7,1103.9 1112.2,1100.9 1114.7,1104.1 1117.2,1104.4 1119.8,1106.3 1122.3,1112.8 1124.8,1105.6 1127.3,1114.0 1129.9,1114.0 1132.4,1104.3 1134.9,1108.3 1137.4,1109.8 1140.0,1104.3 1142.5,1109.5 1145.0,1115.6 1147.5,1106.5 1150.1,1112.7 1152.6,1107.3 1155.1,1113.2 1157.6,1117.4 1160.2,1109.5 1162.7,1107.4 1165.2,1108.5 1167.7,1114.2 1170.2,1108.2 1172.8,1109.3 1175.3,1114.5 1177.8,1119.8 1180.3,1114.1 1182.9,1114.4 1185.4,1117.7 1187.9,1111.7 1190.4,1118.0 1193.0,1113.7 1195.5,1119.4 1198.0,1123.8 1200.5,1113.2 1203.1,1119.5 1205.6,1120.7 1208.1,1121.0 1210.6,1136.3 1213.2,1124.5 1215.7,1119.5 1218.2,1111.1 1220.7,1110.4 1223.3,1108.7 1225.8,1105.2 1228.3,1103.7 1230.8,1100.4 1233.3,1095.1 1235.9,1090.0 1238.4,1084.8 1240.9,1080.2 1243.4,1073.9 1246.0,1069.4 1248.5,1062.8 1251.0,1055.2 1253.5,1050.0 1256.1,1049.3 1258.6,1051.1 1261.1,1056.8 1263.6,1061.4 1266.2,1066.1 1268.7,1067.6 1271.2,1074.2 1273.7,1082.5 1276.3,1098.6 1278.8,1100.9 1281.3,1103.0 1283.8,1103.7 1286.4,1101.5 1288.9,1099.6 1291.4,1092.5 1293.9,1087.9 1296.4,1081.9 1299.0,1075.6 1301.5,1070.2 1304.0,1057.8 1306.5,1048.0 1309.1,1041.8 1311.2,1037.1 1314.1,1000.0 1315.6,985.7 1318.6,973.8 1320.9,950.0 1324.6,926.2 1326.5,903.5 1328.3,879.3 1329.8,869.6 1332.5,866.0 1335.3,864.4 1336.8,878.5 1338.4,889.7 1342.2,935.9 1344.4,968.6 1347.4,991.0 1349.3,1018.0 1353.0,1051.7 1354.5,1057.4 1357.0,1069.0 1359.5,1076.2 1362.1,1083.1 1364.6,1089.8 1367.1,1091.9 1369.6,1095.5 1372.2,1097.5 1374.7,1099.8 1377.2,1099.8 1379.7,1100.6 1382.3,1099.6 1384.8,1095.1 1387.3,1092.7 1388.8,1079.5 1390.3,1044.4 1393.2,1009.3 1393.8,970.1 1397.6,917.2 1398.7,869.6 1401.5,840.0 1404.3,823.4 1408.0,840.5 1410.2,887.4 1411.7,926.9 1415.4,978.3 1418.1,1026.8 1420.3,1043.2 1422.5,1059.6 1425.2,1070.5 1427.7,1075.6 1430.2,1077.5 1432.7,1071.8 1435.3,1073.9 1437.8,1077.1 1440.3,1080.2 1442.8,1082.7 1445.4,1086.7 1447.9,1079.2 1450.4,1076.4 1452.9,1081.2 1455.5,1075.1 1458.0,1073.6 1460.5,1078.3 1463.0,1079.1 1465.6,1070.6 1468.1,1074.5 1470.6,1076.7 1473.1,1076.7 1475.7,1071.3 1478.2,1076.5 1480.7,1067.1 1483.2,1074.1 1485.7,1077.4 1488.3,1081.4 1490.8,1079.3 1493.3,1077.3 1495.8,1094.4 1498.4,1087.4 1500.9,1083.5 1503.4,1089.4 1505.9,1082.8 1508.5,1089.4 1511.0,1081.0 1513.5,1076.7 1516.0,1077.0 1518.6,1078.6 1521.1,1078.1 1523.6,1075.6 1526.1,1076.1 1528.7,1082.8 1531.2,1091.4 1533.7,1088.1 1536.2,1092.0 1538.8,1080.1 1541.3,1090.8 1543.8,1088.6 1546.3,1083.5 1548.8,1099.5" fill="none" stroke="#000" stroke-width="1.1"/>
<g fill="#fff" stroke="#000" stroke-width="1.3">
<circle cx="1039.0" cy="1083.6" r="6.0"/><circle cx="1041.5" cy="1083.3" r="6.0"/><circle cx="1044.0" cy="1081.3" r="6.0"/><circle cx="1046.6" cy="1090.8" r="6.0"/><circle cx="1049.1" cy="1081.2" r="6.0"/><circle cx="1051.6" cy="1087.8" r="6.0"/><circle cx="1054.1" cy="1093.2" r="6.0"/><circle cx="1056.7" cy="1084.1" r="6.0"/><circle cx="1059.2" cy="1090.4" r="6.0"/><circle cx="1061.7" cy="1091.7" r="6.0"/><circle cx="1064.2" cy="1085.3" r="6.0"/><circle cx="1066.8" cy="1089.9" r="6.0"/><circle cx="1069.3" cy="1094.3" r="6.0"/><circle cx="1071.8" cy="1091.8" r="6.0"/><circle cx="1074.3" cy="1095.6" r="6.0"/><circle cx="1076.9" cy="1089.3" r="6.0"/><circle cx="1079.4" cy="1090.7" r="6.0"/><circle cx="1081.9" cy="1090.0" r="6.0"/><circle cx="1084.4" cy="1095.6" r="6.0"/><circle cx="1087.0" cy="1101.5" r="6.0"/><circle cx="1089.5" cy="1098.4" r="6.0"/><circle cx="1092.0" cy="1101.5" r="6.0"/><circle cx="1094.5" cy="1097.7" r="6.0"/><circle cx="1097.1" cy="1102.9" r="6.0"/><circle cx="1099.6" cy="1096.1" r="6.0"/><circle cx="1102.1" cy="1099.3" r="6.0"/><circle cx="1104.6" cy="1104.9" r="6.0"/><circle cx="1107.1" cy="1106.6" r="6.0"/><circle cx="1109.7" cy="1103.9" r="6.0"/><circle cx="1112.2" cy="1100.9" r="6.0"/><circle cx="1114.7" cy="1104.1" r="6.0"/><circle cx="1117.2" cy="1104.4" r="6.0"/><circle cx="1119.8" cy="1106.3" r="6.0"/><circle cx="1122.3" cy="1112.8" r="6.0"/><circle cx="1124.8" cy="1105.6" r="6.0"/><circle cx="1127.3" cy="1114.0" r="6.0"/><circle cx="1129.9" cy="1114.0" r="6.0"/><circle cx="1132.4" cy="1104.3" r="6.0"/><circle cx="1134.9" cy="1108.3" r="6.0"/><circle cx="1137.4" cy="1109.8" r="6.0"/><circle cx="1140.0" cy="1104.3" r="6.0"/><circle cx="1142.5" cy="1109.5" r="6.0"/><circle cx="1145.0" cy="1115.6" r="6.0"/><circle cx="1147.5" cy="1106.5" r="6.0"/><circle cx="1150.1" cy="1112.7" r="6.0"/><circle cx="1152.6" cy="1107.3" r="6.0"/><circle cx="1155.1" cy="1113.2" r="6.0"/><circle cx="1157.6" cy="1117.4" r="6.0"/><circle cx="1160.2" cy="1109.5" r="6.0"/><circle cx="1162.7" cy="1107.4" r="6.0"/><circle cx="1165.2" cy="1108.5" r="6.0"/><circle cx="1167.7" cy="1114.2" r="6.0"/><circle cx="1170.2" cy="1108.2" r="6.0"/><circle cx="1172.8" cy="1109.3" r="6.0"/><circle cx="1175.3" cy="1114.5" r="6.0"/><circle cx="1177.8" cy="1119.8" r="6.0"/><circle cx="1180.3" cy="1114.1" r="6.0"/><circle cx="1182.9" cy="1114.4" r="6.0"/><circle cx="1185.4" cy="1117.7" r="6.0"/><circle cx="1187.9" cy="1111.7" r="6.0"/><circle cx="1190.4" cy="1118.0" r="6.0"/><circle cx="1193.0" cy="1113.7" r="6.0"/><circle cx="1195.5" cy="1119.4" r="6.0"/><circle cx="1198.0" cy="1123.8" r="6.0"/><circle cx="1200.5" cy="1113.2" r="6.0"/><circle cx="1203.1" cy="1119.5" r="6.0"/><circle cx="1205.6" cy="1120.7" r="6.0"/><circle cx="1208.1" cy="1121.0" r="6.0"/><circle cx="1210.6" cy="1136.3" r="6.0"/><circle cx="1213.2" cy="1124.5" r="6.0"/><circle cx="1215.7" cy="1119.5" r="6.0"/><circle cx="1218.2" cy="1111.1" r="6.0"/><circle cx="1220.7" cy="1110.4" r="6.0"/><circle cx="1223.3" cy="1108.7" r="6.0"/><circle cx="1225.8" cy="1105.2" r="6.0"/><circle cx="1228.3" cy="1103.7" r="6.0"/><circle cx="1230.8" cy="1100.4" r="6.0"/><circle cx="1233.3" cy="1095.1" r="6.0"/><circle cx="1235.9" cy="1090.0" r="6.0"/><circle cx="1238.4" cy="1084.8" r="6.0"/><circle cx="1240.9" cy="1080.2" r="6.0"/><circle cx="1243.4" cy="1073.9" r="6.0"/><circle cx="1246.0" cy="1069.4" r="6.0"/><circle cx="1248.5" cy="1062.8" r="6.0"/><circle cx="1251.0" cy="1055.2" r="6.0"/><circle cx="1253.5" cy="1050.0" r="6.0"/><circle cx="1256.1" cy="1049.3" r="6.0"/><circle cx="1258.6" cy="1051.1" r="6.0"/><circle cx="1261.1" cy="1056.8" r="6.0"/><circle cx="1263.6" cy="1061.4" r="6.0"/><circle cx="1266.2" cy="1066.1" r="6.0"/><circle cx="1268.7" cy="1067.6" r="6.0"/><circle cx="1271.2" cy="1074.2" r="6.0"/><circle cx="1273.7" cy="1082.5" r="6.0"/><circle cx="1276.3" cy="1098.6" r="6.0"/><circle cx="1278.8" cy="1100.9" r="6.0"/><circle cx="1281.3" cy="1103.0" r="6.0"/><circle cx="1283.8" cy="1103.7" r="6.0"/><circle cx="1286.4" cy="1101.5" r="6.0"/><circle cx="1288.9" cy="1099.6" r="6.0"/><circle cx="1291.4" cy="1092.5" r="6.0"/><circle cx="1293.9" cy="1087.9" r="6.0"/><circle cx="1296.4" cy="1081.9" r="6.0"/><circle cx="1299.0" cy="1075.6" r="6.0"/><circle cx="1301.5" cy="1070.2" r="6.0"/><circle cx="1304.0" cy="1057.8" r="6.0"/><circle cx="1306.5" cy="1048.0" r="6.0"/><circle cx="1309.1" cy="1041.8" r="6.0"/><circle cx="1311.2" cy="1037.1" r="6.0"/><circle cx="1314.1" cy="1000.0" r="6.0"/><circle cx="1315.6" cy="985.7" r="6.0"/><circle cx="1318.6" cy="973.8" r="6.0"/><circle cx="1320.9" cy="950.0" r="6.0"/><circle cx="1324.6" cy="926.2" r="6.0"/><circle cx="1326.5" cy="903.5" r="6.0"/><circle cx="1328.3" cy="879.3" r="6.0"/><circle cx="1329.8" cy="869.6" r="6.0"/><circle cx="1332.5" cy="866.0" r="6.0"/><circle cx="1335.3" cy="864.4" r="6.0"/><circle cx="1336.8" cy="878.5" r="6.0"/><circle cx="1338.4" cy="889.7" r="6.0"/><circle cx="1342.2" cy="935.9" r="6.0"/><circle cx="1344.4" cy="968.6" r="6.0"/><circle cx="1347.4" cy="991.0" r="6.0"/><circle cx="1349.3" cy="1018.0" r="6.0"/><circle cx="1353.0" cy="1051.7" r="6.0"/><circle cx="1354.5" cy="1057.4" r="6.0"/><circle cx="1357.0" cy="1069.0" r="6.0"/><circle cx="1359.5" cy="1076.2" r="6.0"/><circle cx="1362.1" cy="1083.1" r="6.0"/><circle cx="1364.6" cy="1089.8" r="6.0"/><circle cx="1367.1" cy="1091.9" r="6.0"/><circle cx="1369.6" cy="1095.5" r="6.0"/><circle cx="1372.2" cy="1097.5" r="6.0"/><circle cx="1374.7" cy="1099.8" r="6.0"/><circle cx="1377.2" cy="1099.8" r="6.0"/><circle cx="1379.7" cy="1100.6" r="6.0"/><circle cx="1382.3" cy="1099.6" r="6.0"/><circle cx="1384.8" cy="1095.1" r="6.0"/><circle cx="1387.3" cy="1092.7" r="6.0"/><circle cx="1388.8" cy="1079.5" r="6.0"/><circle cx="1390.3" cy="1044.4" r="6.0"/><circle cx="1393.2" cy="1009.3" r="6.0"/><circle cx="1393.8" cy="970.1" r="6.0"/><circle cx="1397.6" cy="917.2" r="6.0"/><circle cx="1398.7" cy="869.6" r="6.0"/><circle cx="1401.5" cy="840.0" r="6.0"/><circle cx="1404.3" cy="823.4" r="6.0"/><circle cx="1408.0" cy="840.5" r="6.0"/><circle cx="1410.2" cy="887.4" r="6.0"/><circle cx="1411.7" cy="926.9" r="6.0"/><circle cx="1415.4" cy="978.3" r="6.0"/><circle cx="1418.1" cy="1026.8" r="6.0"/><circle cx="1420.3" cy="1043.2" r="6.0"/><circle cx="1422.5" cy="1059.6" r="6.0"/><circle cx="1425.2" cy="1070.5" r="6.0"/><circle cx="1427.7" cy="1075.6" r="6.0"/><circle cx="1430.2" cy="1077.5" r="6.0"/><circle cx="1432.7" cy="1071.8" r="6.0"/><circle cx="1435.3" cy="1073.9" r="6.0"/><circle cx="1437.8" cy="1077.1" r="6.0"/><circle cx="1440.3" cy="1080.2" r="6.0"/><circle cx="1442.8" cy="1082.7" r="6.0"/><circle cx="1445.4" cy="1086.7" r="6.0"/><circle cx="1447.9" cy="1079.2" r="6.0"/><circle cx="1450.4" cy="1076.4" r="6.0"/><circle cx="1452.9" cy="1081.2" r="6.0"/><circle cx="1455.5" cy="1075.1" r="6.0"/><circle cx="1458.0" cy="1073.6" r="6.0"/><circle cx="1460.5" cy="1078.3" r="6.0"/><circle cx="1463.0" cy="1079.1" r="6.0"/><circle cx="1465.6" cy="1070.6" r="6.0"/><circle cx="1468.1" cy="1074.5" r="6.0"/><circle cx="1470.6" cy="1076.7" r="6.0"/><circle cx="1473.1" cy="1076.7" r="6.0"/><circle cx="1475.7" cy="1071.3" r="6.0"/><circle cx="1478.2" cy="1076.5" r="6.0"/><circle cx="1480.7" cy="1067.1" r="6.0"/><circle cx="1483.2" cy="1074.1" r="6.0"/><circle cx="1485.7" cy="1077.4" r="6.0"/><circle cx="1488.3" cy="1081.4" r="6.0"/><circle cx="1490.8" cy="1079.3" r="6.0"/><circle cx="1493.3" cy="1077.3" r="6.0"/><circle cx="1495.8" cy="1094.4" r="6.0"/><circle cx="1498.4" cy="1087.4" r="6.0"/><circle cx="1500.9" cy="1083.5" r="6.0"/><circle cx="1503.4" cy="1089.4" r="6.0"/><circle cx="1505.9" cy="1082.8" r="6.0"/><circle cx="1508.5" cy="1089.4" r="6.0"/><circle cx="1511.0" cy="1081.0" r="6.0"/><circle cx="1513.5" cy="1076.7" r="6.0"/><circle cx="1516.0" cy="1077.0" r="6.0"/><circle cx="1518.6" cy="1078.6" r="6.0"/><circle cx="1521.1" cy="1078.1" r="6.0"/><circle cx="1523.6" cy="1075.6" r="6.0"/><circle cx="1526.1" cy="1076.1" r="6.0"/><circle cx="1528.7" cy="1082.8" r="6.0"/><circle cx="1531.2" cy="1091.4" r="6.0"/><circle cx="1533.7" cy="1088.1" r="6.0"/><circle cx="1536.2" cy="1092.0" r="6.0"/><circle cx="1538.8" cy="1080.1" r="6.0"/><circle cx="1541.3" cy="1090.8" r="6.0"/><circle cx="1543.8" cy="1088.6" r="6.0"/><circle cx="1546.3" cy="1083.5" r="6.0"/><circle cx="1548.8" cy="1099.5" r="6.0"/>
</g>
<polyline points="1040.0,1114.4 1042.5,1119.3 1045.0,1109.5 1047.6,1116.8 1050.1,1116.0 1052.6,1113.5 1055.1,1119.0 1057.7,1119.3 1060.2,1112.3 1062.7,1119.6 1065.2,1116.8 1067.8,1117.5 1070.3,1119.4 1072.8,1112.6 1075.3,1119.4 1077.9,1116.8 1080.4,1123.1 1082.9,1115.9 1085.4,1123.6 1088.0,1123.0 1090.5,1122.4 1093.0,1125.9 1095.5,1116.4 1098.1,1123.7 1100.6,1124.6 1103.1,1126.2 1105.6,1123.8 1108.1,1120.7 1110.7,1123.0 1113.2,1128.9 1115.7,1124.7 1118.2,1124.2 1120.8,1128.5 1123.3,1130.7 1125.8,1132.2 1128.3,1126.9 1130.9,1136.7 1133.4,1132.2 1135.9,1138.4 1138.4,1128.7 1141.0,1139.5 1143.5,1134.7 1146.0,1138.9 1148.5,1138.5 1151.1,1136.2 1153.6,1127.1 1156.1,1129.5 1158.6,1127.6 1161.2,1134.0 1163.7,1127.0 1166.2,1127.4 1168.7,1126.1 1171.2,1126.3 1173.8,1136.1 1176.3,1136.6 1178.8,1129.4 1181.3,1133.8 1183.9,1130.4 1186.4,1130.9 1188.9,1129.0 1191.4,1132.0 1194.0,1127.1 1196.5,1127.3 1199.0,1130.3 1201.5,1125.8 1204.1,1127.6 1206.6,1132.7 1209.1,1120.6 1211.6,1120.4 1214.2,1127.5 1216.7,1117.4 1219.2,1118.4 1221.7,1124.9 1224.3,1121.6 1226.8,1119.1 1229.3,1116.8 1231.8,1115.1 1234.3,1113.2 1236.9,1112.0 1239.4,1110.1 1241.9,1107.6 1244.4,1105.6 1247.0,1103.4 1249.5,1102.0 1252.0,1101.7 1254.5,1101.4 1257.1,1099.5 1259.6,1105.0 1262.1,1114.3 1264.6,1115.4 1267.2,1115.7 1269.7,1115.6 1272.2,1115.7 1274.7,1114.2 1277.3,1113.2 1279.8,1113.2 1282.3,1114.9 1284.8,1116.6 1287.4,1117.9 1289.9,1115.3 1292.4,1111.6 1294.9,1108.8 1297.4,1102.8 1300.0,1096.6 1302.5,1091.6 1305.0,1081.2 1307.5,1072.8 1311.2,1056.1 1314.1,1047.3 1315.6,1023.2 1319.1,995.4 1321.3,979.8 1324.6,941.1 1329.8,922.4 1331.6,928.4 1335.3,957.5 1336.2,971.6 1338.4,998.4 1341.2,1039.3 1343.4,1056.1 1347.1,1072.2 1351.5,1098.5 1353.0,1100.5 1355.5,1102.4 1358.0,1106.1 1360.5,1106.3 1363.1,1107.2 1365.6,1108.2 1368.1,1109.2 1370.6,1105.7 1373.2,1101.4 1375.7,1096.3 1378.2,1089.3 1380.7,1077.8 1383.3,1058.4 1385.1,1045.9 1387.3,1010.7 1388.6,955.2 1392.3,902.3 1393.8,845.0 1398.3,823.4 1402.8,837.6 1404.3,887.4 1407.5,941.1 1409.5,992.9 1411.5,1029.8 1414.4,1057.6 1416.6,1073.7 1418.6,1078.7 1421.1,1082.4 1423.6,1084.9 1426.2,1083.8 1428.7,1093.6 1431.2,1093.5 1433.7,1092.3 1436.3,1103.2 1438.8,1100.7 1441.3,1102.4 1443.8,1095.5 1446.4,1093.4 1448.9,1103.0 1451.4,1091.1 1453.9,1089.5 1456.5,1085.3 1459.0,1082.6 1461.5,1090.3 1464.0,1091.3 1466.6,1086.1 1469.1,1082.0 1471.6,1088.3 1474.1,1085.4 1476.7,1082.7 1479.2,1087.5 1481.7,1077.9 1484.2,1076.3 1486.7,1078.0 1489.3,1079.8 1491.8,1078.4 1494.3,1084.7 1496.8,1086.2 1499.4,1078.7 1501.9,1068.1 1504.4,1075.0 1506.9,1068.8 1509.5,1076.0 1512.0,1082.3 1514.5,1081.5 1517.0,1084.3 1519.6,1082.5 1522.1,1076.7 1524.6,1075.1 1527.1,1078.8 1529.7,1081.7 1532.2,1077.8 1534.7,1080.5 1537.2,1087.0 1539.8,1083.7 1542.3,1090.8 1544.8,1097.8 1547.3,1114.0" fill="none" stroke="#f00" stroke-width="1.1"/>
<g fill="#fff" stroke="#f00" stroke-width="1.3">
<circle cx="1040.0" cy="1114.4" r="6.0"/><circle cx="1042.5" cy="1119.3" r="6.0"/><circle cx="1045.0" cy="1109.5" r="6.0"/><circle cx="1047.6" cy="1116.8" r="6.0"/><circle cx="1050.1" cy="1116.0" r="6.0"/><circle cx="1052.6" cy="1113.5" r="6.0"/><circle cx="1055.1" cy="1119.0" r="6.0"/><circle cx="1057.7" cy="1119.3" r="6.0"/><circle cx="1060.2" cy="1112.3" r="6.0"/><circle cx="1062.7" cy="1119.6" r="6.0"/><circle cx="1065.2" cy="1116.8" r="6.0"/><circle cx="1067.8" cy="1117.5" r="6.0"/><circle cx="1070.3" cy="1119.4" r="6.0"/><circle cx="1072.8" cy="1112.6" r="6.0"/><circle cx="1075.3" cy="1119.4" r="6.0"/><circle cx="1077.9" cy="1116.8" r="6.0"/><circle cx="1080.4" cy="1123.1" r="6.0"/><circle cx="1082.9" cy="1115.9" r="6.0"/><circle cx="1085.4" cy="1123.6" r="6.0"/><circle cx="1088.0" cy="1123.0" r="6.0"/><circle cx="1090.5" cy="1122.4" r="6.0"/><circle cx="1093.0" cy="1125.9" r="6.0"/><circle cx="1095.5" cy="1116.4" r="6.0"/><circle cx="1098.1" cy="1123.7" r="6.0"/><circle cx="1100.6" cy="1124.6" r="6.0"/><circle cx="1103.1" cy="1126.2" r="6.0"/><circle cx="1105.6" cy="1123.8" r="6.0"/><circle cx="1108.1" cy="1120.7" r="6.0"/><circle cx="1110.7" cy="1123.0" r="6.0"/><circle cx="1113.2" cy="1128.9" r="6.0"/><circle cx="1115.7" cy="1124.7" r="6.0"/><circle cx="1118.2" cy="1124.2" r="6.0"/><circle cx="1120.8" cy="1128.5" r="6.0"/><circle cx="1123.3" cy="1130.7" r="6.0"/><circle cx="1125.8" cy="1132.2" r="6.0"/><circle cx="1128.3" cy="1126.9" r="6.0"/><circle cx="1130.9" cy="1136.7" r="6.0"/><circle cx="1133.4" cy="1132.2" r="6.0"/><circle cx="1135.9" cy="1138.4" r="6.0"/><circle cx="1138.4" cy="1128.7" r="6.0"/><circle cx="1141.0" cy="1139.5" r="6.0"/><circle cx="1143.5" cy="1134.7" r="6.0"/><circle cx="1146.0" cy="1138.9" r="6.0"/><circle cx="1148.5" cy="1138.5" r="6.0"/><circle cx="1151.1" cy="1136.2" r="6.0"/><circle cx="1153.6" cy="1127.1" r="6.0"/><circle cx="1156.1" cy="1129.5" r="6.0"/><circle cx="1158.6" cy="1127.6" r="6.0"/><circle cx="1161.2" cy="1134.0" r="6.0"/><circle cx="1163.7" cy="1127.0" r="6.0"/><circle cx="1166.2" cy="1127.4" r="6.0"/><circle cx="1168.7" cy="1126.1" r="6.0"/><circle cx="1171.2" cy="1126.3" r="6.0"/><circle cx="1173.8" cy="1136.1" r="6.0"/><circle cx="1176.3" cy="1136.6" r="6.0"/><circle cx="1178.8" cy="1129.4" r="6.0"/><circle cx="1181.3" cy="1133.8" r="6.0"/><circle cx="1183.9" cy="1130.4" r="6.0"/><circle cx="1186.4" cy="1130.9" r="6.0"/><circle cx="1188.9" cy="1129.0" r="6.0"/><circle cx="1191.4" cy="1132.0" r="6.0"/><circle cx="1194.0" cy="1127.1" r="6.0"/><circle cx="1196.5" cy="1127.3" r="6.0"/><circle cx="1199.0" cy="1130.3" r="6.0"/><circle cx="1201.5" cy="1125.8" r="6.0"/><circle cx="1204.1" cy="1127.6" r="6.0"/><circle cx="1206.6" cy="1132.7" r="6.0"/><circle cx="1209.1" cy="1120.6" r="6.0"/><circle cx="1211.6" cy="1120.4" r="6.0"/><circle cx="1214.2" cy="1127.5" r="6.0"/><circle cx="1216.7" cy="1117.4" r="6.0"/><circle cx="1219.2" cy="1118.4" r="6.0"/><circle cx="1221.7" cy="1124.9" r="6.0"/><circle cx="1224.3" cy="1121.6" r="6.0"/><circle cx="1226.8" cy="1119.1" r="6.0"/><circle cx="1229.3" cy="1116.8" r="6.0"/><circle cx="1231.8" cy="1115.1" r="6.0"/><circle cx="1234.3" cy="1113.2" r="6.0"/><circle cx="1236.9" cy="1112.0" r="6.0"/><circle cx="1239.4" cy="1110.1" r="6.0"/><circle cx="1241.9" cy="1107.6" r="6.0"/><circle cx="1244.4" cy="1105.6" r="6.0"/><circle cx="1247.0" cy="1103.4" r="6.0"/><circle cx="1249.5" cy="1102.0" r="6.0"/><circle cx="1252.0" cy="1101.7" r="6.0"/><circle cx="1254.5" cy="1101.4" r="6.0"/><circle cx="1257.1" cy="1099.5" r="6.0"/><circle cx="1259.6" cy="1105.0" r="6.0"/><circle cx="1262.1" cy="1114.3" r="6.0"/><circle cx="1264.6" cy="1115.4" r="6.0"/><circle cx="1267.2" cy="1115.7" r="6.0"/><circle cx="1269.7" cy="1115.6" r="6.0"/><circle cx="1272.2" cy="1115.7" r="6.0"/><circle cx="1274.7" cy="1114.2" r="6.0"/><circle cx="1277.3" cy="1113.2" r="6.0"/><circle cx="1279.8" cy="1113.2" r="6.0"/><circle cx="1282.3" cy="1114.9" r="6.0"/><circle cx="1284.8" cy="1116.6" r="6.0"/><circle cx="1287.4" cy="1117.9" r="6.0"/><circle cx="1289.9" cy="1115.3" r="6.0"/><circle cx="1292.4" cy="1111.6" r="6.0"/><circle cx="1294.9" cy="1108.8" r="6.0"/><circle cx="1297.4" cy="1102.8" r="6.0"/><circle cx="1300.0" cy="1096.6" r="6.0"/><circle cx="1302.5" cy="1091.6" r="6.0"/><circle cx="1305.0" cy="1081.2" r="6.0"/><circle cx="1307.5" cy="1072.8" r="6.0"/><circle cx="1311.2" cy="1056.1" r="6.0"/><circle cx="1314.1" cy="1047.3" r="6.0"/><circle cx="1315.6" cy="1023.2" r="6.0"/><circle cx="1319.1" cy="995.4" r="6.0"/><circle cx="1321.3" cy="979.8" r="6.0"/><circle cx="1324.6" cy="941.1" r="6.0"/><circle cx="1329.8" cy="922.4" r="6.0"/><circle cx="1331.6" cy="928.4" r="6.0"/><circle cx="1335.3" cy="957.5" r="6.0"/><circle cx="1336.2" cy="971.6" r="6.0"/><circle cx="1338.4" cy="998.4" r="6.0"/><circle cx="1341.2" cy="1039.3" r="6.0"/><circle cx="1343.4" cy="1056.1" r="6.0"/><circle cx="1347.1" cy="1072.2" r="6.0"/><circle cx="1351.5" cy="1098.5" r="6.0"/><circle cx="1353.0" cy="1100.5" r="6.0"/><circle cx="1355.5" cy="1102.4" r="6.0"/><circle cx="1358.0" cy="1106.1" r="6.0"/><circle cx="1360.5" cy="1106.3" r="6.0"/><circle cx="1363.1" cy="1107.2" r="6.0"/><circle cx="1365.6" cy="1108.2" r="6.0"/><circle cx="1368.1" cy="1109.2" r="6.0"/><circle cx="1370.6" cy="1105.7" r="6.0"/><circle cx="1373.2" cy="1101.4" r="6.0"/><circle cx="1375.7" cy="1096.3" r="6.0"/><circle cx="1378.2" cy="1089.3" r="6.0"/><circle cx="1380.7" cy="1077.8" r="6.0"/><circle cx="1383.3" cy="1058.4" r="6.0"/><circle cx="1385.1" cy="1045.9" r="6.0"/><circle cx="1387.3" cy="1010.7" r="6.0"/><circle cx="1388.6" cy="955.2" r="6.0"/><circle cx="1392.3" cy="902.3" r="6.0"/><circle cx="1393.8" cy="845.0" r="6.0"/><circle cx="1398.3" cy="823.4" r="6.0"/><circle cx="1402.8" cy="837.6" r="6.0"/><circle cx="1404.3" cy="887.4" r="6.0"/><circle cx="1407.5" cy="941.1" r="6.0"/><circle cx="1409.5" cy="992.9" r="6.0"/><circle cx="1411.5" cy="1029.8" r="6.0"/><circle cx="1414.4" cy="1057.6" r="6.0"/><circle cx="1416.6" cy="1073.7" r="6.0"/><circle cx="1418.6" cy="1078.7" r="6.0"/><circle cx="1421.1" cy="1082.4" r="6.0"/><circle cx="1423.6" cy="1084.9" r="6.0"/><circle cx="1426.2" cy="1083.8" r="6.0"/><circle cx="1428.7" cy="1093.6" r="6.0"/><circle cx="1431.2" cy="1093.5" r="6.0"/><circle cx="1433.7" cy="1092.3" r="6.0"/><circle cx="1436.3" cy="1103.2" r="6.0"/><circle cx="1438.8" cy="1100.7" r="6.0"/><circle cx="1441.3" cy="1102.4" r="6.0"/><circle cx="1443.8" cy="1095.5" r="6.0"/><circle cx="1446.4" cy="1093.4" r="6.0"/><circle cx="1448.9" cy="1103.0" r="6.0"/><circle cx="1451.4" cy="1091.1" r="6.0"/><circle cx="1453.9" cy="1089.5" r="6.0"/><circle cx="1456.5" cy="1085.3" r="6.0"/><circle cx="1459.0" cy="1082.6" r="6.0"/><circle cx="1461.5" cy="1090.3" r="6.0"/><circle cx="1464.0" cy="1091.3" r="6.0"/><circle cx="1466.6" cy="1086.1" r="6.0"/><circle cx="1469.1" cy="1082.0" r="6.0"/><circle cx="1471.6" cy="1088.3" r="6.0"/><circle cx="1474.1" cy="1085.4" r="6.0"/><circle cx="1476.7" cy="1082.7" r="6.0"/><circle cx="1479.2" cy="1087.5" r="6.0"/><circle cx="1481.7" cy="1077.9" r="6.0"/><circle cx="1484.2" cy="1076.3" r="6.0"/><circle cx="1486.7" cy="1078.0" r="6.0"/><circle cx="1489.3" cy="1079.8" r="6.0"/><circle cx="1491.8" cy="1078.4" r="6.0"/><circle cx="1494.3" cy="1084.7" r="6.0"/><circle cx="1496.8" cy="1086.2" r="6.0"/><circle cx="1499.4" cy="1078.7" r="6.0"/><circle cx="1501.9" cy="1068.1" r="6.0"/><circle cx="1504.4" cy="1075.0" r="6.0"/><circle cx="1506.9" cy="1068.8" r="6.0"/><circle cx="1509.5" cy="1076.0" r="6.0"/><circle cx="1512.0" cy="1082.3" r="6.0"/><circle cx="1514.5" cy="1081.5" r="6.0"/><circle cx="1517.0" cy="1084.3" r="6.0"/><circle cx="1519.6" cy="1082.5" r="6.0"/><circle cx="1522.1" cy="1076.7" r="6.0"/><circle cx="1524.6" cy="1075.1" r="6.0"/><circle cx="1527.1" cy="1078.8" r="6.0"/><circle cx="1529.7" cy="1081.7" r="6.0"/><circle cx="1532.2" cy="1077.8" r="6.0"/><circle cx="1534.7" cy="1080.5" r="6.0"/><circle cx="1537.2" cy="1087.0" r="6.0"/><circle cx="1539.8" cy="1083.7" r="6.0"/><circle cx="1542.3" cy="1090.8" r="6.0"/><circle cx="1544.8" cy="1097.8" r="6.0"/><circle cx="1547.3" cy="1114.0" r="6.0"/>
</g>
</g>
</svg></body></html>
